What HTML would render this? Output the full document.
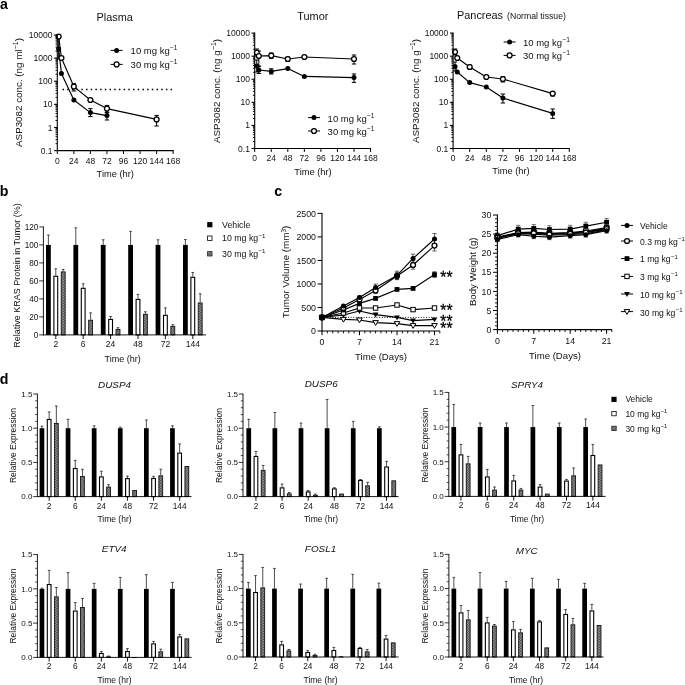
<!DOCTYPE html>
<html><head><meta charset="utf-8"><title>Figure</title>
<style>
html,body{margin:0;padding:0;background:#fff;}
body{width:685px;height:685px;overflow:hidden;}
svg{display:block;font-family:'Liberation Sans', Arial, sans-serif;}
</style></head><body>
<svg width="685" height="685" viewBox="0 0 685 685">
<rect width="685" height="685" fill="#fff"/>
<line x1="62.50" y1="89.60" x2="174.00" y2="89.60" stroke="#000" stroke-width="1.5" stroke-dasharray="1.5 3.2"/>
<polyline fill="none" stroke="#000" stroke-width="1.15" stroke-linejoin="round" points="58.68,49.00 61.44,73.40 73.85,100.00 90.40,112.60 106.95,115.60"/>
<line x1="58.68" y1="38.00" x2="58.68" y2="59.00" stroke="#000" stroke-width="1.00" />
<line x1="56.48" y1="38.00" x2="60.88" y2="38.00" stroke="#000" stroke-width="1.00" />
<line x1="56.48" y1="59.00" x2="60.88" y2="59.00" stroke="#000" stroke-width="1.00" />
<line x1="90.40" y1="108.60" x2="90.40" y2="116.60" stroke="#000" stroke-width="1.00" />
<line x1="88.20" y1="108.60" x2="92.60" y2="108.60" stroke="#000" stroke-width="1.00" />
<line x1="88.20" y1="116.60" x2="92.60" y2="116.60" stroke="#000" stroke-width="1.00" />
<line x1="106.95" y1="112.60" x2="106.95" y2="120.00" stroke="#000" stroke-width="1.00" />
<line x1="104.75" y1="112.60" x2="109.15" y2="112.60" stroke="#000" stroke-width="1.00" />
<line x1="104.75" y1="120.00" x2="109.15" y2="120.00" stroke="#000" stroke-width="1.00" />
<circle cx="58.68" cy="49.00" r="2.50" fill="#000"/>
<circle cx="61.44" cy="73.40" r="2.50" fill="#000"/>
<circle cx="73.85" cy="100.00" r="2.50" fill="#000"/>
<circle cx="90.40" cy="112.60" r="2.50" fill="#000"/>
<circle cx="106.95" cy="115.60" r="2.50" fill="#000"/>
<polyline fill="none" stroke="#000" stroke-width="1.15" stroke-linejoin="round" points="58.68,36.60 61.44,58.00 73.85,86.60 90.40,100.00 106.95,108.60 156.60,119.40"/>
<line x1="73.85" y1="83.60" x2="73.85" y2="91.00" stroke="#000" stroke-width="1.00" />
<line x1="71.65" y1="83.60" x2="76.05" y2="83.60" stroke="#000" stroke-width="1.00" />
<line x1="71.65" y1="91.00" x2="76.05" y2="91.00" stroke="#000" stroke-width="1.00" />
<line x1="106.95" y1="105.40" x2="106.95" y2="112.00" stroke="#000" stroke-width="1.00" />
<line x1="104.75" y1="105.40" x2="109.15" y2="105.40" stroke="#000" stroke-width="1.00" />
<line x1="104.75" y1="112.00" x2="109.15" y2="112.00" stroke="#000" stroke-width="1.00" />
<line x1="156.60" y1="115.40" x2="156.60" y2="126.00" stroke="#000" stroke-width="1.00" />
<line x1="154.40" y1="115.40" x2="158.80" y2="115.40" stroke="#000" stroke-width="1.00" />
<line x1="154.40" y1="126.00" x2="158.80" y2="126.00" stroke="#000" stroke-width="1.00" />
<circle cx="58.68" cy="36.60" r="2.45" fill="#fff" stroke="#000" stroke-width="1.3"/>
<circle cx="61.44" cy="58.00" r="2.45" fill="#fff" stroke="#000" stroke-width="1.3"/>
<circle cx="73.85" cy="86.60" r="2.45" fill="#fff" stroke="#000" stroke-width="1.3"/>
<circle cx="90.40" cy="100.00" r="2.45" fill="#fff" stroke="#000" stroke-width="1.3"/>
<circle cx="106.95" cy="108.60" r="2.45" fill="#fff" stroke="#000" stroke-width="1.3"/>
<circle cx="156.60" cy="119.40" r="2.45" fill="#fff" stroke="#000" stroke-width="1.3"/>
<line x1="57.30" y1="34.50" x2="57.30" y2="151.10" stroke="#000" stroke-width="1.10" />
<line x1="56.80" y1="150.60" x2="173.65" y2="150.60" stroke="#000" stroke-width="1.10" />
<line x1="54.10" y1="35.00" x2="57.30" y2="35.00" stroke="#000" stroke-width="1.10" />
<text x="52.50" y="38.05" text-anchor="end" fill="#111" style="font-size:8.50px" >10000</text>
<line x1="55.50" y1="51.16" x2="57.30" y2="51.16" stroke="#000" stroke-width="0.90" />
<line x1="55.50" y1="47.09" x2="57.30" y2="47.09" stroke="#000" stroke-width="0.90" />
<line x1="55.50" y1="44.20" x2="57.30" y2="44.20" stroke="#000" stroke-width="0.90" />
<line x1="55.50" y1="41.96" x2="57.30" y2="41.96" stroke="#000" stroke-width="0.90" />
<line x1="55.50" y1="40.13" x2="57.30" y2="40.13" stroke="#000" stroke-width="0.90" />
<line x1="55.50" y1="38.58" x2="57.30" y2="38.58" stroke="#000" stroke-width="0.90" />
<line x1="55.50" y1="37.24" x2="57.30" y2="37.24" stroke="#000" stroke-width="0.90" />
<line x1="55.50" y1="36.06" x2="57.30" y2="36.06" stroke="#000" stroke-width="0.90" />
<line x1="54.10" y1="58.12" x2="57.30" y2="58.12" stroke="#000" stroke-width="1.10" />
<text x="52.50" y="61.17" text-anchor="end" fill="#111" style="font-size:8.50px" >1000</text>
<line x1="55.50" y1="74.28" x2="57.30" y2="74.28" stroke="#000" stroke-width="0.90" />
<line x1="55.50" y1="70.21" x2="57.30" y2="70.21" stroke="#000" stroke-width="0.90" />
<line x1="55.50" y1="67.32" x2="57.30" y2="67.32" stroke="#000" stroke-width="0.90" />
<line x1="55.50" y1="65.08" x2="57.30" y2="65.08" stroke="#000" stroke-width="0.90" />
<line x1="55.50" y1="63.25" x2="57.30" y2="63.25" stroke="#000" stroke-width="0.90" />
<line x1="55.50" y1="61.70" x2="57.30" y2="61.70" stroke="#000" stroke-width="0.90" />
<line x1="55.50" y1="60.36" x2="57.30" y2="60.36" stroke="#000" stroke-width="0.90" />
<line x1="55.50" y1="59.18" x2="57.30" y2="59.18" stroke="#000" stroke-width="0.90" />
<line x1="54.10" y1="81.24" x2="57.30" y2="81.24" stroke="#000" stroke-width="1.10" />
<text x="52.50" y="84.29" text-anchor="end" fill="#111" style="font-size:8.50px" >100</text>
<line x1="55.50" y1="97.40" x2="57.30" y2="97.40" stroke="#000" stroke-width="0.90" />
<line x1="55.50" y1="93.33" x2="57.30" y2="93.33" stroke="#000" stroke-width="0.90" />
<line x1="55.50" y1="90.44" x2="57.30" y2="90.44" stroke="#000" stroke-width="0.90" />
<line x1="55.50" y1="88.20" x2="57.30" y2="88.20" stroke="#000" stroke-width="0.90" />
<line x1="55.50" y1="86.37" x2="57.30" y2="86.37" stroke="#000" stroke-width="0.90" />
<line x1="55.50" y1="84.82" x2="57.30" y2="84.82" stroke="#000" stroke-width="0.90" />
<line x1="55.50" y1="83.48" x2="57.30" y2="83.48" stroke="#000" stroke-width="0.90" />
<line x1="55.50" y1="82.30" x2="57.30" y2="82.30" stroke="#000" stroke-width="0.90" />
<line x1="54.10" y1="104.36" x2="57.30" y2="104.36" stroke="#000" stroke-width="1.10" />
<text x="52.50" y="107.41" text-anchor="end" fill="#111" style="font-size:8.50px" >10</text>
<line x1="55.50" y1="120.52" x2="57.30" y2="120.52" stroke="#000" stroke-width="0.90" />
<line x1="55.50" y1="116.45" x2="57.30" y2="116.45" stroke="#000" stroke-width="0.90" />
<line x1="55.50" y1="113.56" x2="57.30" y2="113.56" stroke="#000" stroke-width="0.90" />
<line x1="55.50" y1="111.32" x2="57.30" y2="111.32" stroke="#000" stroke-width="0.90" />
<line x1="55.50" y1="109.49" x2="57.30" y2="109.49" stroke="#000" stroke-width="0.90" />
<line x1="55.50" y1="107.94" x2="57.30" y2="107.94" stroke="#000" stroke-width="0.90" />
<line x1="55.50" y1="106.60" x2="57.30" y2="106.60" stroke="#000" stroke-width="0.90" />
<line x1="55.50" y1="105.42" x2="57.30" y2="105.42" stroke="#000" stroke-width="0.90" />
<line x1="54.10" y1="127.48" x2="57.30" y2="127.48" stroke="#000" stroke-width="1.10" />
<text x="52.50" y="130.53" text-anchor="end" fill="#111" style="font-size:8.50px" >1</text>
<line x1="55.50" y1="143.64" x2="57.30" y2="143.64" stroke="#000" stroke-width="0.90" />
<line x1="55.50" y1="139.57" x2="57.30" y2="139.57" stroke="#000" stroke-width="0.90" />
<line x1="55.50" y1="136.68" x2="57.30" y2="136.68" stroke="#000" stroke-width="0.90" />
<line x1="55.50" y1="134.44" x2="57.30" y2="134.44" stroke="#000" stroke-width="0.90" />
<line x1="55.50" y1="132.61" x2="57.30" y2="132.61" stroke="#000" stroke-width="0.90" />
<line x1="55.50" y1="131.06" x2="57.30" y2="131.06" stroke="#000" stroke-width="0.90" />
<line x1="55.50" y1="129.72" x2="57.30" y2="129.72" stroke="#000" stroke-width="0.90" />
<line x1="55.50" y1="128.54" x2="57.30" y2="128.54" stroke="#000" stroke-width="0.90" />
<line x1="54.10" y1="150.60" x2="57.30" y2="150.60" stroke="#000" stroke-width="1.10" />
<text x="52.50" y="153.65" text-anchor="end" fill="#111" style="font-size:8.50px" >0.1</text>
<line x1="57.30" y1="150.60" x2="57.30" y2="154.00" stroke="#000" stroke-width="1.00" />
<text x="57.30" y="163.60" text-anchor="middle" fill="#111" style="font-size:8.50px" >0</text>
<line x1="73.85" y1="150.60" x2="73.85" y2="154.00" stroke="#000" stroke-width="1.00" />
<text x="73.85" y="163.60" text-anchor="middle" fill="#111" style="font-size:8.50px" >24</text>
<line x1="90.40" y1="150.60" x2="90.40" y2="154.00" stroke="#000" stroke-width="1.00" />
<text x="90.40" y="163.60" text-anchor="middle" fill="#111" style="font-size:8.50px" >48</text>
<line x1="106.95" y1="150.60" x2="106.95" y2="154.00" stroke="#000" stroke-width="1.00" />
<text x="106.95" y="163.60" text-anchor="middle" fill="#111" style="font-size:8.50px" >72</text>
<line x1="123.50" y1="150.60" x2="123.50" y2="154.00" stroke="#000" stroke-width="1.00" />
<text x="123.50" y="163.60" text-anchor="middle" fill="#111" style="font-size:8.50px" >96</text>
<line x1="140.05" y1="150.60" x2="140.05" y2="154.00" stroke="#000" stroke-width="1.00" />
<text x="140.05" y="163.60" text-anchor="middle" fill="#111" style="font-size:8.50px" >120</text>
<line x1="156.60" y1="150.60" x2="156.60" y2="154.00" stroke="#000" stroke-width="1.00" />
<text x="156.60" y="163.60" text-anchor="middle" fill="#111" style="font-size:8.50px" >144</text>
<line x1="173.15" y1="150.60" x2="173.15" y2="154.00" stroke="#000" stroke-width="1.00" />
<text x="173.15" y="163.60" text-anchor="middle" fill="#111" style="font-size:8.50px" >168</text>
<text x="115.30" y="177.00" text-anchor="middle" fill="#111" style="font-size:9.30px" >Time (hr)</text>
<text transform="translate(22.00 92.50) rotate(-90)" text-anchor="middle" fill="#111" style="font-size:9.80px" >ASP3082 conc. (ng ml<tspan dx="0.3" dy="-4.12" font-size="6.86">−1</tspan><tspan dy="4.12" font-size="9.80">)</tspan></text>
<text x="96.60" y="20.60" text-anchor="start" fill="#111" style="font-size:10.90px" >Plasma</text>
<line x1="110.60" y1="50.40" x2="122.60" y2="50.40" stroke="#000" stroke-width="1.00" />
<circle cx="116.60" cy="50.40" r="2.50" fill="#000"/>
<text x="130.60" y="54.40" text-anchor="start" fill="#111" style="font-size:9.50px" >10 mg kg<tspan dx="0.3" dy="-3.99" font-size="6.65">−1</tspan></text>
<line x1="110.60" y1="64.40" x2="122.60" y2="64.40" stroke="#000" stroke-width="1.00" />
<circle cx="116.60" cy="64.40" r="2.45" fill="#fff" stroke="#000" stroke-width="1.3"/>
<text x="130.60" y="68.40" text-anchor="start" fill="#111" style="font-size:9.50px" >30 mg kg<tspan dx="0.3" dy="-3.99" font-size="6.65">−1</tspan></text>
<polyline fill="none" stroke="#000" stroke-width="1.15" stroke-linejoin="round" points="256.77,66.00 258.84,70.00 271.25,71.40 287.80,68.60 304.35,76.40 354.00,77.60"/>
<line x1="256.77" y1="60.00" x2="256.77" y2="72.00" stroke="#000" stroke-width="1.00" />
<line x1="254.57" y1="60.00" x2="258.97" y2="60.00" stroke="#000" stroke-width="1.00" />
<line x1="254.57" y1="72.00" x2="258.97" y2="72.00" stroke="#000" stroke-width="1.00" />
<line x1="258.84" y1="66.50" x2="258.84" y2="73.50" stroke="#000" stroke-width="1.00" />
<line x1="256.64" y1="66.50" x2="261.04" y2="66.50" stroke="#000" stroke-width="1.00" />
<line x1="256.64" y1="73.50" x2="261.04" y2="73.50" stroke="#000" stroke-width="1.00" />
<line x1="271.25" y1="68.80" x2="271.25" y2="74.00" stroke="#000" stroke-width="1.00" />
<line x1="269.05" y1="68.80" x2="273.45" y2="68.80" stroke="#000" stroke-width="1.00" />
<line x1="269.05" y1="74.00" x2="273.45" y2="74.00" stroke="#000" stroke-width="1.00" />
<line x1="354.00" y1="74.00" x2="354.00" y2="82.40" stroke="#000" stroke-width="1.00" />
<line x1="351.80" y1="74.00" x2="356.20" y2="74.00" stroke="#000" stroke-width="1.00" />
<line x1="351.80" y1="82.40" x2="356.20" y2="82.40" stroke="#000" stroke-width="1.00" />
<circle cx="256.77" cy="66.00" r="2.50" fill="#000"/>
<circle cx="258.84" cy="70.00" r="2.50" fill="#000"/>
<circle cx="271.25" cy="71.40" r="2.50" fill="#000"/>
<circle cx="287.80" cy="68.60" r="2.50" fill="#000"/>
<circle cx="304.35" cy="76.40" r="2.50" fill="#000"/>
<circle cx="354.00" cy="77.60" r="2.50" fill="#000"/>
<polyline fill="none" stroke="#000" stroke-width="1.15" stroke-linejoin="round" points="256.77,52.60 258.84,56.00 271.25,55.60 287.80,59.00 304.35,57.00 354.00,59.00"/>
<line x1="256.77" y1="49.00" x2="256.77" y2="56.00" stroke="#000" stroke-width="1.00" />
<line x1="254.57" y1="49.00" x2="258.97" y2="49.00" stroke="#000" stroke-width="1.00" />
<line x1="254.57" y1="56.00" x2="258.97" y2="56.00" stroke="#000" stroke-width="1.00" />
<line x1="258.84" y1="51.00" x2="258.84" y2="66.00" stroke="#000" stroke-width="1.00" />
<line x1="256.64" y1="51.00" x2="261.04" y2="51.00" stroke="#000" stroke-width="1.00" />
<line x1="256.64" y1="66.00" x2="261.04" y2="66.00" stroke="#000" stroke-width="1.00" />
<line x1="271.25" y1="53.00" x2="271.25" y2="58.40" stroke="#000" stroke-width="1.00" />
<line x1="269.05" y1="53.00" x2="273.45" y2="53.00" stroke="#000" stroke-width="1.00" />
<line x1="269.05" y1="58.40" x2="273.45" y2="58.40" stroke="#000" stroke-width="1.00" />
<line x1="287.80" y1="57.00" x2="287.80" y2="61.50" stroke="#000" stroke-width="1.00" />
<line x1="285.60" y1="57.00" x2="290.00" y2="57.00" stroke="#000" stroke-width="1.00" />
<line x1="285.60" y1="61.50" x2="290.00" y2="61.50" stroke="#000" stroke-width="1.00" />
<line x1="354.00" y1="55.00" x2="354.00" y2="64.00" stroke="#000" stroke-width="1.00" />
<line x1="351.80" y1="55.00" x2="356.20" y2="55.00" stroke="#000" stroke-width="1.00" />
<line x1="351.80" y1="64.00" x2="356.20" y2="64.00" stroke="#000" stroke-width="1.00" />
<circle cx="256.77" cy="52.60" r="2.45" fill="#fff" stroke="#000" stroke-width="1.3"/>
<circle cx="258.84" cy="56.00" r="2.45" fill="#fff" stroke="#000" stroke-width="1.3"/>
<circle cx="271.25" cy="55.60" r="2.45" fill="#fff" stroke="#000" stroke-width="1.3"/>
<circle cx="287.80" cy="59.00" r="2.45" fill="#fff" stroke="#000" stroke-width="1.3"/>
<circle cx="304.35" cy="57.00" r="2.45" fill="#fff" stroke="#000" stroke-width="1.3"/>
<circle cx="354.00" cy="59.00" r="2.45" fill="#fff" stroke="#000" stroke-width="1.3"/>
<line x1="254.70" y1="32.60" x2="254.70" y2="149.00" stroke="#000" stroke-width="1.10" />
<line x1="254.20" y1="148.50" x2="371.05" y2="148.50" stroke="#000" stroke-width="1.10" />
<line x1="251.50" y1="33.10" x2="254.70" y2="33.10" stroke="#000" stroke-width="1.10" />
<text x="249.90" y="36.15" text-anchor="end" fill="#111" style="font-size:8.50px" >10000</text>
<line x1="252.90" y1="49.23" x2="254.70" y2="49.23" stroke="#000" stroke-width="0.90" />
<line x1="252.90" y1="45.17" x2="254.70" y2="45.17" stroke="#000" stroke-width="0.90" />
<line x1="252.90" y1="42.28" x2="254.70" y2="42.28" stroke="#000" stroke-width="0.90" />
<line x1="252.90" y1="40.05" x2="254.70" y2="40.05" stroke="#000" stroke-width="0.90" />
<line x1="252.90" y1="38.22" x2="254.70" y2="38.22" stroke="#000" stroke-width="0.90" />
<line x1="252.90" y1="36.68" x2="254.70" y2="36.68" stroke="#000" stroke-width="0.90" />
<line x1="252.90" y1="35.34" x2="254.70" y2="35.34" stroke="#000" stroke-width="0.90" />
<line x1="252.90" y1="34.16" x2="254.70" y2="34.16" stroke="#000" stroke-width="0.90" />
<line x1="251.50" y1="56.18" x2="254.70" y2="56.18" stroke="#000" stroke-width="1.10" />
<text x="249.90" y="59.23" text-anchor="end" fill="#111" style="font-size:8.50px" >1000</text>
<line x1="252.90" y1="72.31" x2="254.70" y2="72.31" stroke="#000" stroke-width="0.90" />
<line x1="252.90" y1="68.25" x2="254.70" y2="68.25" stroke="#000" stroke-width="0.90" />
<line x1="252.90" y1="65.36" x2="254.70" y2="65.36" stroke="#000" stroke-width="0.90" />
<line x1="252.90" y1="63.13" x2="254.70" y2="63.13" stroke="#000" stroke-width="0.90" />
<line x1="252.90" y1="61.30" x2="254.70" y2="61.30" stroke="#000" stroke-width="0.90" />
<line x1="252.90" y1="59.76" x2="254.70" y2="59.76" stroke="#000" stroke-width="0.90" />
<line x1="252.90" y1="58.42" x2="254.70" y2="58.42" stroke="#000" stroke-width="0.90" />
<line x1="252.90" y1="57.24" x2="254.70" y2="57.24" stroke="#000" stroke-width="0.90" />
<line x1="251.50" y1="79.26" x2="254.70" y2="79.26" stroke="#000" stroke-width="1.10" />
<text x="249.90" y="82.31" text-anchor="end" fill="#111" style="font-size:8.50px" >100</text>
<line x1="252.90" y1="95.39" x2="254.70" y2="95.39" stroke="#000" stroke-width="0.90" />
<line x1="252.90" y1="91.33" x2="254.70" y2="91.33" stroke="#000" stroke-width="0.90" />
<line x1="252.90" y1="88.44" x2="254.70" y2="88.44" stroke="#000" stroke-width="0.90" />
<line x1="252.90" y1="86.21" x2="254.70" y2="86.21" stroke="#000" stroke-width="0.90" />
<line x1="252.90" y1="84.38" x2="254.70" y2="84.38" stroke="#000" stroke-width="0.90" />
<line x1="252.90" y1="82.84" x2="254.70" y2="82.84" stroke="#000" stroke-width="0.90" />
<line x1="252.90" y1="81.50" x2="254.70" y2="81.50" stroke="#000" stroke-width="0.90" />
<line x1="252.90" y1="80.32" x2="254.70" y2="80.32" stroke="#000" stroke-width="0.90" />
<line x1="251.50" y1="102.34" x2="254.70" y2="102.34" stroke="#000" stroke-width="1.10" />
<text x="249.90" y="105.39" text-anchor="end" fill="#111" style="font-size:8.50px" >10</text>
<line x1="252.90" y1="118.47" x2="254.70" y2="118.47" stroke="#000" stroke-width="0.90" />
<line x1="252.90" y1="114.41" x2="254.70" y2="114.41" stroke="#000" stroke-width="0.90" />
<line x1="252.90" y1="111.52" x2="254.70" y2="111.52" stroke="#000" stroke-width="0.90" />
<line x1="252.90" y1="109.29" x2="254.70" y2="109.29" stroke="#000" stroke-width="0.90" />
<line x1="252.90" y1="107.46" x2="254.70" y2="107.46" stroke="#000" stroke-width="0.90" />
<line x1="252.90" y1="105.92" x2="254.70" y2="105.92" stroke="#000" stroke-width="0.90" />
<line x1="252.90" y1="104.58" x2="254.70" y2="104.58" stroke="#000" stroke-width="0.90" />
<line x1="252.90" y1="103.40" x2="254.70" y2="103.40" stroke="#000" stroke-width="0.90" />
<line x1="251.50" y1="125.42" x2="254.70" y2="125.42" stroke="#000" stroke-width="1.10" />
<text x="249.90" y="128.47" text-anchor="end" fill="#111" style="font-size:8.50px" >1</text>
<line x1="252.90" y1="141.55" x2="254.70" y2="141.55" stroke="#000" stroke-width="0.90" />
<line x1="252.90" y1="137.49" x2="254.70" y2="137.49" stroke="#000" stroke-width="0.90" />
<line x1="252.90" y1="134.60" x2="254.70" y2="134.60" stroke="#000" stroke-width="0.90" />
<line x1="252.90" y1="132.37" x2="254.70" y2="132.37" stroke="#000" stroke-width="0.90" />
<line x1="252.90" y1="130.54" x2="254.70" y2="130.54" stroke="#000" stroke-width="0.90" />
<line x1="252.90" y1="129.00" x2="254.70" y2="129.00" stroke="#000" stroke-width="0.90" />
<line x1="252.90" y1="127.66" x2="254.70" y2="127.66" stroke="#000" stroke-width="0.90" />
<line x1="252.90" y1="126.48" x2="254.70" y2="126.48" stroke="#000" stroke-width="0.90" />
<line x1="251.50" y1="148.50" x2="254.70" y2="148.50" stroke="#000" stroke-width="1.10" />
<text x="249.90" y="151.55" text-anchor="end" fill="#111" style="font-size:8.50px" >0.1</text>
<line x1="254.70" y1="148.50" x2="254.70" y2="151.90" stroke="#000" stroke-width="1.00" />
<text x="254.70" y="161.40" text-anchor="middle" fill="#111" style="font-size:8.50px" >0</text>
<line x1="271.25" y1="148.50" x2="271.25" y2="151.90" stroke="#000" stroke-width="1.00" />
<text x="271.25" y="161.40" text-anchor="middle" fill="#111" style="font-size:8.50px" >24</text>
<line x1="287.80" y1="148.50" x2="287.80" y2="151.90" stroke="#000" stroke-width="1.00" />
<text x="287.80" y="161.40" text-anchor="middle" fill="#111" style="font-size:8.50px" >48</text>
<line x1="304.35" y1="148.50" x2="304.35" y2="151.90" stroke="#000" stroke-width="1.00" />
<text x="304.35" y="161.40" text-anchor="middle" fill="#111" style="font-size:8.50px" >72</text>
<line x1="320.90" y1="148.50" x2="320.90" y2="151.90" stroke="#000" stroke-width="1.00" />
<text x="320.90" y="161.40" text-anchor="middle" fill="#111" style="font-size:8.50px" >96</text>
<line x1="337.45" y1="148.50" x2="337.45" y2="151.90" stroke="#000" stroke-width="1.00" />
<text x="337.45" y="161.40" text-anchor="middle" fill="#111" style="font-size:8.50px" >120</text>
<line x1="354.00" y1="148.50" x2="354.00" y2="151.90" stroke="#000" stroke-width="1.00" />
<text x="354.00" y="161.40" text-anchor="middle" fill="#111" style="font-size:8.50px" >144</text>
<line x1="370.55" y1="148.50" x2="370.55" y2="151.90" stroke="#000" stroke-width="1.00" />
<text x="370.55" y="161.40" text-anchor="middle" fill="#111" style="font-size:8.50px" >168</text>
<text x="313.00" y="175.00" text-anchor="middle" fill="#111" style="font-size:9.30px" >Time (hr)</text>
<text transform="translate(219.80 91.00) rotate(-90)" text-anchor="middle" fill="#111" style="font-size:9.80px" >ASP3082 conc. (ng g<tspan dx="0.3" dy="-4.12" font-size="6.86">−1</tspan><tspan dy="4.12" font-size="9.80">)</tspan></text>
<text x="297.30" y="20.00" text-anchor="start" fill="#111" style="font-size:10.90px" >Tumor</text>
<line x1="308.00" y1="117.60" x2="320.00" y2="117.60" stroke="#000" stroke-width="1.00" />
<circle cx="314.00" cy="117.60" r="2.50" fill="#000"/>
<text x="327.60" y="121.60" text-anchor="start" fill="#111" style="font-size:9.50px" >10 mg kg<tspan dx="0.3" dy="-3.99" font-size="6.65">−1</tspan></text>
<line x1="308.00" y1="131.00" x2="320.00" y2="131.00" stroke="#000" stroke-width="1.00" />
<circle cx="314.00" cy="131.00" r="2.45" fill="#fff" stroke="#000" stroke-width="1.3"/>
<text x="327.60" y="135.00" text-anchor="start" fill="#111" style="font-size:9.50px" >30 mg kg<tspan dx="0.3" dy="-3.99" font-size="6.65">−1</tspan></text>
<polyline fill="none" stroke="#000" stroke-width="1.15" stroke-linejoin="round" points="455.04,66.60 457.25,72.00 469.70,82.60 486.30,87.00 502.90,98.00 552.70,113.40"/>
<line x1="455.04" y1="62.00" x2="455.04" y2="71.00" stroke="#000" stroke-width="1.00" />
<line x1="452.84" y1="62.00" x2="457.24" y2="62.00" stroke="#000" stroke-width="1.00" />
<line x1="452.84" y1="71.00" x2="457.24" y2="71.00" stroke="#000" stroke-width="1.00" />
<line x1="502.90" y1="94.00" x2="502.90" y2="103.00" stroke="#000" stroke-width="1.00" />
<line x1="500.70" y1="94.00" x2="505.10" y2="94.00" stroke="#000" stroke-width="1.00" />
<line x1="500.70" y1="103.00" x2="505.10" y2="103.00" stroke="#000" stroke-width="1.00" />
<line x1="552.70" y1="109.00" x2="552.70" y2="118.40" stroke="#000" stroke-width="1.00" />
<line x1="550.50" y1="109.00" x2="554.90" y2="109.00" stroke="#000" stroke-width="1.00" />
<line x1="550.50" y1="118.40" x2="554.90" y2="118.40" stroke="#000" stroke-width="1.00" />
<circle cx="455.04" cy="66.60" r="2.50" fill="#000"/>
<circle cx="457.25" cy="72.00" r="2.50" fill="#000"/>
<circle cx="469.70" cy="82.60" r="2.50" fill="#000"/>
<circle cx="486.30" cy="87.00" r="2.50" fill="#000"/>
<circle cx="502.90" cy="98.00" r="2.50" fill="#000"/>
<circle cx="552.70" cy="113.40" r="2.50" fill="#000"/>
<polyline fill="none" stroke="#000" stroke-width="1.15" stroke-linejoin="round" points="455.04,52.00 457.25,58.00 469.70,67.00 486.30,77.00 502.90,79.00 552.70,93.60"/>
<line x1="455.04" y1="49.00" x2="455.04" y2="55.00" stroke="#000" stroke-width="1.00" />
<line x1="452.84" y1="49.00" x2="457.24" y2="49.00" stroke="#000" stroke-width="1.00" />
<line x1="452.84" y1="55.00" x2="457.24" y2="55.00" stroke="#000" stroke-width="1.00" />
<line x1="469.70" y1="65.00" x2="469.70" y2="69.00" stroke="#000" stroke-width="1.00" />
<line x1="467.50" y1="65.00" x2="471.90" y2="65.00" stroke="#000" stroke-width="1.00" />
<line x1="467.50" y1="69.00" x2="471.90" y2="69.00" stroke="#000" stroke-width="1.00" />
<line x1="502.90" y1="76.50" x2="502.90" y2="82.00" stroke="#000" stroke-width="1.00" />
<line x1="500.70" y1="76.50" x2="505.10" y2="76.50" stroke="#000" stroke-width="1.00" />
<line x1="500.70" y1="82.00" x2="505.10" y2="82.00" stroke="#000" stroke-width="1.00" />
<line x1="552.70" y1="91.50" x2="552.70" y2="96.00" stroke="#000" stroke-width="1.00" />
<line x1="550.50" y1="91.50" x2="554.90" y2="91.50" stroke="#000" stroke-width="1.00" />
<line x1="550.50" y1="96.00" x2="554.90" y2="96.00" stroke="#000" stroke-width="1.00" />
<circle cx="455.04" cy="52.00" r="2.45" fill="#fff" stroke="#000" stroke-width="1.3"/>
<circle cx="457.25" cy="58.00" r="2.45" fill="#fff" stroke="#000" stroke-width="1.3"/>
<circle cx="469.70" cy="67.00" r="2.45" fill="#fff" stroke="#000" stroke-width="1.3"/>
<circle cx="486.30" cy="77.00" r="2.45" fill="#fff" stroke="#000" stroke-width="1.3"/>
<circle cx="502.90" cy="79.00" r="2.45" fill="#fff" stroke="#000" stroke-width="1.3"/>
<circle cx="552.70" cy="93.60" r="2.45" fill="#fff" stroke="#000" stroke-width="1.3"/>
<line x1="453.10" y1="32.60" x2="453.10" y2="149.00" stroke="#000" stroke-width="1.10" />
<line x1="452.60" y1="148.50" x2="569.80" y2="148.50" stroke="#000" stroke-width="1.10" />
<line x1="449.90" y1="33.10" x2="453.10" y2="33.10" stroke="#000" stroke-width="1.10" />
<text x="448.30" y="36.15" text-anchor="end" fill="#111" style="font-size:8.50px" >10000</text>
<line x1="451.30" y1="49.23" x2="453.10" y2="49.23" stroke="#000" stroke-width="0.90" />
<line x1="451.30" y1="45.17" x2="453.10" y2="45.17" stroke="#000" stroke-width="0.90" />
<line x1="451.30" y1="42.28" x2="453.10" y2="42.28" stroke="#000" stroke-width="0.90" />
<line x1="451.30" y1="40.05" x2="453.10" y2="40.05" stroke="#000" stroke-width="0.90" />
<line x1="451.30" y1="38.22" x2="453.10" y2="38.22" stroke="#000" stroke-width="0.90" />
<line x1="451.30" y1="36.68" x2="453.10" y2="36.68" stroke="#000" stroke-width="0.90" />
<line x1="451.30" y1="35.34" x2="453.10" y2="35.34" stroke="#000" stroke-width="0.90" />
<line x1="451.30" y1="34.16" x2="453.10" y2="34.16" stroke="#000" stroke-width="0.90" />
<line x1="449.90" y1="56.18" x2="453.10" y2="56.18" stroke="#000" stroke-width="1.10" />
<text x="448.30" y="59.23" text-anchor="end" fill="#111" style="font-size:8.50px" >1000</text>
<line x1="451.30" y1="72.31" x2="453.10" y2="72.31" stroke="#000" stroke-width="0.90" />
<line x1="451.30" y1="68.25" x2="453.10" y2="68.25" stroke="#000" stroke-width="0.90" />
<line x1="451.30" y1="65.36" x2="453.10" y2="65.36" stroke="#000" stroke-width="0.90" />
<line x1="451.30" y1="63.13" x2="453.10" y2="63.13" stroke="#000" stroke-width="0.90" />
<line x1="451.30" y1="61.30" x2="453.10" y2="61.30" stroke="#000" stroke-width="0.90" />
<line x1="451.30" y1="59.76" x2="453.10" y2="59.76" stroke="#000" stroke-width="0.90" />
<line x1="451.30" y1="58.42" x2="453.10" y2="58.42" stroke="#000" stroke-width="0.90" />
<line x1="451.30" y1="57.24" x2="453.10" y2="57.24" stroke="#000" stroke-width="0.90" />
<line x1="449.90" y1="79.26" x2="453.10" y2="79.26" stroke="#000" stroke-width="1.10" />
<text x="448.30" y="82.31" text-anchor="end" fill="#111" style="font-size:8.50px" >100</text>
<line x1="451.30" y1="95.39" x2="453.10" y2="95.39" stroke="#000" stroke-width="0.90" />
<line x1="451.30" y1="91.33" x2="453.10" y2="91.33" stroke="#000" stroke-width="0.90" />
<line x1="451.30" y1="88.44" x2="453.10" y2="88.44" stroke="#000" stroke-width="0.90" />
<line x1="451.30" y1="86.21" x2="453.10" y2="86.21" stroke="#000" stroke-width="0.90" />
<line x1="451.30" y1="84.38" x2="453.10" y2="84.38" stroke="#000" stroke-width="0.90" />
<line x1="451.30" y1="82.84" x2="453.10" y2="82.84" stroke="#000" stroke-width="0.90" />
<line x1="451.30" y1="81.50" x2="453.10" y2="81.50" stroke="#000" stroke-width="0.90" />
<line x1="451.30" y1="80.32" x2="453.10" y2="80.32" stroke="#000" stroke-width="0.90" />
<line x1="449.90" y1="102.34" x2="453.10" y2="102.34" stroke="#000" stroke-width="1.10" />
<text x="448.30" y="105.39" text-anchor="end" fill="#111" style="font-size:8.50px" >10</text>
<line x1="451.30" y1="118.47" x2="453.10" y2="118.47" stroke="#000" stroke-width="0.90" />
<line x1="451.30" y1="114.41" x2="453.10" y2="114.41" stroke="#000" stroke-width="0.90" />
<line x1="451.30" y1="111.52" x2="453.10" y2="111.52" stroke="#000" stroke-width="0.90" />
<line x1="451.30" y1="109.29" x2="453.10" y2="109.29" stroke="#000" stroke-width="0.90" />
<line x1="451.30" y1="107.46" x2="453.10" y2="107.46" stroke="#000" stroke-width="0.90" />
<line x1="451.30" y1="105.92" x2="453.10" y2="105.92" stroke="#000" stroke-width="0.90" />
<line x1="451.30" y1="104.58" x2="453.10" y2="104.58" stroke="#000" stroke-width="0.90" />
<line x1="451.30" y1="103.40" x2="453.10" y2="103.40" stroke="#000" stroke-width="0.90" />
<line x1="449.90" y1="125.42" x2="453.10" y2="125.42" stroke="#000" stroke-width="1.10" />
<text x="448.30" y="128.47" text-anchor="end" fill="#111" style="font-size:8.50px" >1</text>
<line x1="451.30" y1="141.55" x2="453.10" y2="141.55" stroke="#000" stroke-width="0.90" />
<line x1="451.30" y1="137.49" x2="453.10" y2="137.49" stroke="#000" stroke-width="0.90" />
<line x1="451.30" y1="134.60" x2="453.10" y2="134.60" stroke="#000" stroke-width="0.90" />
<line x1="451.30" y1="132.37" x2="453.10" y2="132.37" stroke="#000" stroke-width="0.90" />
<line x1="451.30" y1="130.54" x2="453.10" y2="130.54" stroke="#000" stroke-width="0.90" />
<line x1="451.30" y1="129.00" x2="453.10" y2="129.00" stroke="#000" stroke-width="0.90" />
<line x1="451.30" y1="127.66" x2="453.10" y2="127.66" stroke="#000" stroke-width="0.90" />
<line x1="451.30" y1="126.48" x2="453.10" y2="126.48" stroke="#000" stroke-width="0.90" />
<line x1="449.90" y1="148.50" x2="453.10" y2="148.50" stroke="#000" stroke-width="1.10" />
<text x="448.30" y="151.55" text-anchor="end" fill="#111" style="font-size:8.50px" >0.1</text>
<line x1="453.10" y1="148.50" x2="453.10" y2="151.90" stroke="#000" stroke-width="1.00" />
<text x="453.10" y="161.40" text-anchor="middle" fill="#111" style="font-size:8.50px" >0</text>
<line x1="469.70" y1="148.50" x2="469.70" y2="151.90" stroke="#000" stroke-width="1.00" />
<text x="469.70" y="161.40" text-anchor="middle" fill="#111" style="font-size:8.50px" >24</text>
<line x1="486.30" y1="148.50" x2="486.30" y2="151.90" stroke="#000" stroke-width="1.00" />
<text x="486.30" y="161.40" text-anchor="middle" fill="#111" style="font-size:8.50px" >48</text>
<line x1="502.90" y1="148.50" x2="502.90" y2="151.90" stroke="#000" stroke-width="1.00" />
<text x="502.90" y="161.40" text-anchor="middle" fill="#111" style="font-size:8.50px" >72</text>
<line x1="519.50" y1="148.50" x2="519.50" y2="151.90" stroke="#000" stroke-width="1.00" />
<text x="519.50" y="161.40" text-anchor="middle" fill="#111" style="font-size:8.50px" >96</text>
<line x1="536.10" y1="148.50" x2="536.10" y2="151.90" stroke="#000" stroke-width="1.00" />
<text x="536.10" y="161.40" text-anchor="middle" fill="#111" style="font-size:8.50px" >120</text>
<line x1="552.70" y1="148.50" x2="552.70" y2="151.90" stroke="#000" stroke-width="1.00" />
<text x="552.70" y="161.40" text-anchor="middle" fill="#111" style="font-size:8.50px" >144</text>
<line x1="569.30" y1="148.50" x2="569.30" y2="151.90" stroke="#000" stroke-width="1.00" />
<text x="569.30" y="161.40" text-anchor="middle" fill="#111" style="font-size:8.50px" >168</text>
<text x="511.00" y="174.40" text-anchor="middle" fill="#111" style="font-size:9.30px" >Time (hr)</text>
<text transform="translate(419.40 91.00) rotate(-90)" text-anchor="middle" fill="#111" style="font-size:9.80px" >ASP3082 conc. (ng g<tspan dx="0.3" dy="-4.12" font-size="6.86">−1</tspan><tspan dy="4.12" font-size="9.80">)</tspan></text>
<text x="457.00" y="19.40" text-anchor="start" fill="#111" style="font-size:10.90px" >Pancreas</text>
<text x="507.00" y="19.40" text-anchor="start" fill="#111" style="font-size:8.70px" >(Normal tissue)</text>
<line x1="503.60" y1="42.00" x2="515.60" y2="42.00" stroke="#000" stroke-width="1.00" />
<circle cx="509.60" cy="42.00" r="2.50" fill="#000"/>
<text x="523.00" y="46.00" text-anchor="start" fill="#111" style="font-size:9.50px" >10 mg kg<tspan dx="0.3" dy="-3.99" font-size="6.65">−1</tspan></text>
<line x1="503.60" y1="55.40" x2="515.60" y2="55.40" stroke="#000" stroke-width="1.00" />
<circle cx="509.60" cy="55.40" r="2.45" fill="#fff" stroke="#000" stroke-width="1.3"/>
<text x="523.00" y="59.40" text-anchor="start" fill="#111" style="font-size:9.50px" >30 mg kg<tspan dx="0.3" dy="-3.99" font-size="6.65">−1</tspan></text>
<defs>
<pattern id="hat" width="1.6" height="1.6" patternUnits="userSpaceOnUse">
<rect width="1.6" height="1.6" fill="#a8a8a8"/>
<rect x="0" y="0" width="0.8" height="0.8" fill="#3c3c3c"/>
<rect x="0.8" y="0.8" width="0.8" height="0.8" fill="#3c3c3c"/>
</pattern>
</defs>
<line x1="48.40" y1="235.00" x2="48.40" y2="244.90" stroke="#222" stroke-width="0.80" />
<line x1="47.05" y1="235.00" x2="49.75" y2="235.00" stroke="#222" stroke-width="0.80" />
<rect x="46.00" y="244.90" width="4.80" height="90.00" fill="#000"/>
<line x1="55.80" y1="268.84" x2="55.80" y2="275.77" stroke="#222" stroke-width="0.80" />
<line x1="54.45" y1="268.84" x2="57.15" y2="268.84" stroke="#222" stroke-width="0.80" />
<rect x="53.90" y="276.27" width="3.80" height="58.63" fill="#fff" stroke="#000" stroke-width="1.1"/>
<line x1="63.20" y1="269.47" x2="63.20" y2="271.45" stroke="#222" stroke-width="0.80" />
<line x1="61.85" y1="269.47" x2="64.55" y2="269.47" stroke="#222" stroke-width="0.80" />
<rect x="61.25" y="271.90" width="3.90" height="63.00" fill="url(#hat)" stroke="#111" stroke-width="0.9"/>
<line x1="75.80" y1="227.80" x2="75.80" y2="244.90" stroke="#222" stroke-width="0.80" />
<line x1="74.45" y1="227.80" x2="77.15" y2="227.80" stroke="#222" stroke-width="0.80" />
<rect x="73.40" y="244.90" width="4.80" height="90.00" fill="#000"/>
<line x1="83.20" y1="283.78" x2="83.20" y2="287.83" stroke="#222" stroke-width="0.80" />
<line x1="81.85" y1="283.78" x2="84.55" y2="283.78" stroke="#222" stroke-width="0.80" />
<rect x="81.30" y="288.33" width="3.80" height="46.57" fill="#fff" stroke="#000" stroke-width="1.1"/>
<line x1="90.60" y1="312.85" x2="90.60" y2="319.78" stroke="#222" stroke-width="0.80" />
<line x1="89.25" y1="312.85" x2="91.95" y2="312.85" stroke="#222" stroke-width="0.80" />
<rect x="88.65" y="320.23" width="3.90" height="14.67" fill="url(#hat)" stroke="#111" stroke-width="0.9"/>
<line x1="103.20" y1="239.77" x2="103.20" y2="244.90" stroke="#222" stroke-width="0.80" />
<line x1="101.85" y1="239.77" x2="104.55" y2="239.77" stroke="#222" stroke-width="0.80" />
<rect x="100.80" y="244.90" width="4.80" height="90.00" fill="#000"/>
<line x1="110.60" y1="316.45" x2="110.60" y2="318.97" stroke="#222" stroke-width="0.80" />
<line x1="109.25" y1="316.45" x2="111.95" y2="316.45" stroke="#222" stroke-width="0.80" />
<rect x="108.70" y="319.47" width="3.80" height="15.43" fill="#fff" stroke="#000" stroke-width="1.1"/>
<line x1="118.00" y1="327.70" x2="118.00" y2="329.05" stroke="#222" stroke-width="0.80" />
<line x1="116.65" y1="327.70" x2="119.35" y2="327.70" stroke="#222" stroke-width="0.80" />
<rect x="116.05" y="329.50" width="3.90" height="5.40" fill="url(#hat)" stroke="#111" stroke-width="0.9"/>
<line x1="130.60" y1="231.40" x2="130.60" y2="244.90" stroke="#222" stroke-width="0.80" />
<line x1="129.25" y1="231.40" x2="131.95" y2="231.40" stroke="#222" stroke-width="0.80" />
<rect x="128.20" y="244.90" width="4.80" height="90.00" fill="#000"/>
<line x1="138.00" y1="294.40" x2="138.00" y2="298.90" stroke="#222" stroke-width="0.80" />
<line x1="136.65" y1="294.40" x2="139.35" y2="294.40" stroke="#222" stroke-width="0.80" />
<rect x="136.10" y="299.40" width="3.80" height="35.50" fill="#fff" stroke="#000" stroke-width="1.1"/>
<line x1="145.40" y1="311.77" x2="145.40" y2="313.84" stroke="#222" stroke-width="0.80" />
<line x1="144.05" y1="311.77" x2="146.75" y2="311.77" stroke="#222" stroke-width="0.80" />
<rect x="143.45" y="314.29" width="3.90" height="20.61" fill="url(#hat)" stroke="#111" stroke-width="0.9"/>
<line x1="158.00" y1="239.77" x2="158.00" y2="244.90" stroke="#222" stroke-width="0.80" />
<line x1="156.65" y1="239.77" x2="159.35" y2="239.77" stroke="#222" stroke-width="0.80" />
<rect x="155.60" y="244.90" width="4.80" height="90.00" fill="#000"/>
<line x1="165.40" y1="307.90" x2="165.40" y2="314.83" stroke="#222" stroke-width="0.80" />
<line x1="164.05" y1="307.90" x2="166.75" y2="307.90" stroke="#222" stroke-width="0.80" />
<rect x="163.50" y="315.33" width="3.80" height="19.57" fill="#fff" stroke="#000" stroke-width="1.1"/>
<line x1="172.80" y1="324.64" x2="172.80" y2="325.90" stroke="#222" stroke-width="0.80" />
<line x1="171.45" y1="324.64" x2="174.15" y2="324.64" stroke="#222" stroke-width="0.80" />
<rect x="170.85" y="326.35" width="3.90" height="8.55" fill="url(#hat)" stroke="#111" stroke-width="0.9"/>
<line x1="185.40" y1="239.50" x2="185.40" y2="244.90" stroke="#222" stroke-width="0.80" />
<line x1="184.05" y1="239.50" x2="186.75" y2="239.50" stroke="#222" stroke-width="0.80" />
<rect x="183.00" y="244.90" width="4.80" height="90.00" fill="#000"/>
<line x1="192.80" y1="272.44" x2="192.80" y2="276.85" stroke="#222" stroke-width="0.80" />
<line x1="191.45" y1="272.44" x2="194.15" y2="272.44" stroke="#222" stroke-width="0.80" />
<rect x="190.90" y="277.35" width="3.80" height="57.55" fill="#fff" stroke="#000" stroke-width="1.1"/>
<line x1="200.20" y1="293.77" x2="200.20" y2="302.50" stroke="#222" stroke-width="0.80" />
<line x1="198.85" y1="293.77" x2="201.55" y2="293.77" stroke="#222" stroke-width="0.80" />
<rect x="198.25" y="302.95" width="3.90" height="31.95" fill="url(#hat)" stroke="#111" stroke-width="0.9"/>
<line x1="43.40" y1="226.50" x2="43.40" y2="335.30" stroke="#000" stroke-width="0.90" />
<line x1="43.00" y1="334.90" x2="206.00" y2="334.90" stroke="#000" stroke-width="0.90" />
<line x1="39.20" y1="334.90" x2="43.40" y2="334.90" stroke="#000" stroke-width="0.80" />
<text x="38.40" y="337.70" text-anchor="end" fill="#111" style="font-size:8.20px" >0</text>
<line x1="39.20" y1="316.90" x2="43.40" y2="316.90" stroke="#000" stroke-width="0.80" />
<text x="38.40" y="319.70" text-anchor="end" fill="#111" style="font-size:8.20px" >20</text>
<line x1="39.20" y1="298.90" x2="43.40" y2="298.90" stroke="#000" stroke-width="0.80" />
<text x="38.40" y="301.70" text-anchor="end" fill="#111" style="font-size:8.20px" >40</text>
<line x1="39.20" y1="280.90" x2="43.40" y2="280.90" stroke="#000" stroke-width="0.80" />
<text x="38.40" y="283.70" text-anchor="end" fill="#111" style="font-size:8.20px" >60</text>
<line x1="39.20" y1="262.90" x2="43.40" y2="262.90" stroke="#000" stroke-width="0.80" />
<text x="38.40" y="265.70" text-anchor="end" fill="#111" style="font-size:8.20px" >80</text>
<line x1="39.20" y1="244.90" x2="43.40" y2="244.90" stroke="#000" stroke-width="0.80" />
<text x="38.40" y="247.70" text-anchor="end" fill="#111" style="font-size:8.20px" >100</text>
<line x1="39.20" y1="226.90" x2="43.40" y2="226.90" stroke="#000" stroke-width="0.80" />
<text x="38.40" y="229.70" text-anchor="end" fill="#111" style="font-size:8.20px" >120</text>
<line x1="55.80" y1="334.90" x2="55.80" y2="339.10" stroke="#000" stroke-width="0.90" />
<text x="55.80" y="347.40" text-anchor="middle" fill="#111" style="font-size:8.50px" >2</text>
<line x1="83.20" y1="334.90" x2="83.20" y2="339.10" stroke="#000" stroke-width="0.90" />
<text x="83.20" y="347.40" text-anchor="middle" fill="#111" style="font-size:8.50px" >6</text>
<line x1="110.60" y1="334.90" x2="110.60" y2="339.10" stroke="#000" stroke-width="0.90" />
<text x="110.60" y="347.40" text-anchor="middle" fill="#111" style="font-size:8.50px" >24</text>
<line x1="138.00" y1="334.90" x2="138.00" y2="339.10" stroke="#000" stroke-width="0.90" />
<text x="138.00" y="347.40" text-anchor="middle" fill="#111" style="font-size:8.50px" >48</text>
<line x1="165.40" y1="334.90" x2="165.40" y2="339.10" stroke="#000" stroke-width="0.90" />
<text x="165.40" y="347.40" text-anchor="middle" fill="#111" style="font-size:8.50px" >72</text>
<line x1="192.80" y1="334.90" x2="192.80" y2="339.10" stroke="#000" stroke-width="0.90" />
<text x="192.80" y="347.40" text-anchor="middle" fill="#111" style="font-size:8.50px" >144</text>
<text x="122.60" y="362.00" text-anchor="middle" fill="#111" style="font-size:9.00px" >Time (hr)</text>
<text transform="translate(19.60 275.50) rotate(-90)" text-anchor="middle" fill="#111" style="font-size:9.00px" >Relative KRAS Protein in Tumor (%)</text>
<rect x="207.20" y="222.10" width="5.2" height="5.2" fill="#000"/>
<text x="222.00" y="227.60" text-anchor="start" fill="#111" style="font-size:8.80px" >Vehicle</text>
<rect x="207.60" y="236.00" width="4.4" height="4.4" fill="#fff" stroke="#000" stroke-width="0.8"/>
<text x="222.00" y="241.40" text-anchor="start" fill="#111" style="font-size:8.80px" >10 mg kg<tspan dx="0.3" dy="-3.70" font-size="6.16">−1</tspan></text>
<rect x="207.60" y="251.60" width="4.4" height="4.4" fill="url(#hat)" stroke="#222" stroke-width="0.8"/>
<text x="222.00" y="257.00" text-anchor="start" fill="#111" style="font-size:8.80px" >30 mg kg<tspan dx="0.3" dy="-3.70" font-size="6.16">−1</tspan></text>
<line x1="41.95" y1="426.15" x2="41.95" y2="428.20" stroke="#222" stroke-width="0.80" />
<line x1="40.60" y1="426.15" x2="43.30" y2="426.15" stroke="#222" stroke-width="0.80" />
<rect x="39.60" y="428.20" width="4.70" height="68.40" fill="#000"/>
<line x1="49.15" y1="411.99" x2="49.15" y2="418.97" stroke="#222" stroke-width="0.80" />
<line x1="47.80" y1="411.99" x2="50.50" y2="411.99" stroke="#222" stroke-width="0.80" />
<rect x="47.30" y="419.47" width="3.70" height="77.13" fill="#fff" stroke="#000" stroke-width="1.1"/>
<line x1="56.35" y1="405.97" x2="56.35" y2="423.00" stroke="#222" stroke-width="0.80" />
<line x1="55.00" y1="405.97" x2="57.70" y2="405.97" stroke="#222" stroke-width="0.80" />
<rect x="54.45" y="423.45" width="3.80" height="73.15" fill="url(#hat)" stroke="#111" stroke-width="0.9"/>
<line x1="68.05" y1="419.31" x2="68.05" y2="428.20" stroke="#222" stroke-width="0.80" />
<line x1="66.70" y1="419.31" x2="69.40" y2="419.31" stroke="#222" stroke-width="0.80" />
<rect x="65.70" y="428.20" width="4.70" height="68.40" fill="#000"/>
<line x1="75.25" y1="460.35" x2="75.25" y2="468.01" stroke="#222" stroke-width="0.80" />
<line x1="73.90" y1="460.35" x2="76.60" y2="460.35" stroke="#222" stroke-width="0.80" />
<rect x="73.40" y="468.51" width="3.70" height="28.09" fill="#fff" stroke="#000" stroke-width="1.1"/>
<line x1="82.45" y1="469.24" x2="82.45" y2="476.08" stroke="#222" stroke-width="0.80" />
<line x1="81.10" y1="469.24" x2="83.80" y2="469.24" stroke="#222" stroke-width="0.80" />
<rect x="80.55" y="476.53" width="3.80" height="20.07" fill="url(#hat)" stroke="#111" stroke-width="0.9"/>
<line x1="94.15" y1="425.81" x2="94.15" y2="428.20" stroke="#222" stroke-width="0.80" />
<line x1="92.80" y1="425.81" x2="95.50" y2="425.81" stroke="#222" stroke-width="0.80" />
<rect x="91.80" y="428.20" width="4.70" height="68.40" fill="#000"/>
<line x1="101.35" y1="471.29" x2="101.35" y2="476.42" stroke="#222" stroke-width="0.80" />
<line x1="100.00" y1="471.29" x2="102.70" y2="471.29" stroke="#222" stroke-width="0.80" />
<rect x="99.50" y="476.92" width="3.70" height="19.68" fill="#fff" stroke="#000" stroke-width="1.1"/>
<line x1="108.55" y1="484.63" x2="108.55" y2="486.61" stroke="#222" stroke-width="0.80" />
<line x1="107.20" y1="484.63" x2="109.90" y2="484.63" stroke="#222" stroke-width="0.80" />
<rect x="106.65" y="487.06" width="3.80" height="9.54" fill="url(#hat)" stroke="#111" stroke-width="0.9"/>
<line x1="120.25" y1="427.17" x2="120.25" y2="428.20" stroke="#222" stroke-width="0.80" />
<line x1="118.90" y1="427.17" x2="121.60" y2="427.17" stroke="#222" stroke-width="0.80" />
<rect x="117.90" y="428.20" width="4.70" height="68.40" fill="#000"/>
<line x1="127.45" y1="476.08" x2="127.45" y2="478.13" stroke="#222" stroke-width="0.80" />
<line x1="126.10" y1="476.08" x2="128.80" y2="476.08" stroke="#222" stroke-width="0.80" />
<rect x="125.60" y="478.63" width="3.70" height="17.97" fill="#fff" stroke="#000" stroke-width="1.1"/>
<rect x="132.75" y="490.48" width="3.80" height="6.12" fill="url(#hat)" stroke="#111" stroke-width="0.9"/>
<line x1="146.35" y1="419.99" x2="146.35" y2="428.20" stroke="#222" stroke-width="0.80" />
<line x1="145.00" y1="419.99" x2="147.70" y2="419.99" stroke="#222" stroke-width="0.80" />
<rect x="144.00" y="428.20" width="4.70" height="68.40" fill="#000"/>
<line x1="153.55" y1="476.42" x2="153.55" y2="478.00" stroke="#222" stroke-width="0.80" />
<line x1="152.20" y1="476.42" x2="154.90" y2="476.42" stroke="#222" stroke-width="0.80" />
<rect x="151.70" y="478.50" width="3.70" height="18.10" fill="#fff" stroke="#000" stroke-width="1.1"/>
<line x1="160.75" y1="469.24" x2="160.75" y2="475.40" stroke="#222" stroke-width="0.80" />
<line x1="159.40" y1="469.24" x2="162.10" y2="469.24" stroke="#222" stroke-width="0.80" />
<rect x="158.85" y="475.85" width="3.80" height="20.75" fill="url(#hat)" stroke="#111" stroke-width="0.9"/>
<line x1="172.45" y1="425.81" x2="172.45" y2="428.20" stroke="#222" stroke-width="0.80" />
<line x1="171.10" y1="425.81" x2="173.80" y2="425.81" stroke="#222" stroke-width="0.80" />
<rect x="170.10" y="428.20" width="4.70" height="68.40" fill="#000"/>
<line x1="179.65" y1="443.93" x2="179.65" y2="452.62" stroke="#222" stroke-width="0.80" />
<line x1="178.30" y1="443.93" x2="181.00" y2="443.93" stroke="#222" stroke-width="0.80" />
<rect x="177.80" y="453.12" width="3.70" height="43.48" fill="#fff" stroke="#000" stroke-width="1.1"/>
<rect x="184.95" y="466.48" width="3.80" height="30.12" fill="url(#hat)" stroke="#111" stroke-width="0.9"/>
<line x1="37.40" y1="393.60" x2="37.40" y2="497.00" stroke="#000" stroke-width="0.90" />
<line x1="37.00" y1="496.60" x2="191.60" y2="496.60" stroke="#000" stroke-width="0.90" />
<line x1="33.20" y1="496.60" x2="37.40" y2="496.60" stroke="#000" stroke-width="0.80" />
<text x="32.40" y="499.40" text-anchor="end" fill="#111" style="font-size:8.00px" >0.0</text>
<line x1="33.20" y1="462.40" x2="37.40" y2="462.40" stroke="#000" stroke-width="0.80" />
<text x="32.40" y="465.20" text-anchor="end" fill="#111" style="font-size:8.00px" >0.5</text>
<line x1="33.20" y1="428.20" x2="37.40" y2="428.20" stroke="#000" stroke-width="0.80" />
<text x="32.40" y="431.00" text-anchor="end" fill="#111" style="font-size:8.00px" >1.0</text>
<line x1="33.20" y1="394.00" x2="37.40" y2="394.00" stroke="#000" stroke-width="0.80" />
<text x="32.40" y="396.80" text-anchor="end" fill="#111" style="font-size:8.00px" >1.5</text>
<line x1="35.20" y1="489.76" x2="37.40" y2="489.76" stroke="#000" stroke-width="0.70" />
<line x1="35.20" y1="482.92" x2="37.40" y2="482.92" stroke="#000" stroke-width="0.70" />
<line x1="35.20" y1="476.08" x2="37.40" y2="476.08" stroke="#000" stroke-width="0.70" />
<line x1="35.20" y1="469.24" x2="37.40" y2="469.24" stroke="#000" stroke-width="0.70" />
<line x1="35.20" y1="455.56" x2="37.40" y2="455.56" stroke="#000" stroke-width="0.70" />
<line x1="35.20" y1="448.72" x2="37.40" y2="448.72" stroke="#000" stroke-width="0.70" />
<line x1="35.20" y1="441.88" x2="37.40" y2="441.88" stroke="#000" stroke-width="0.70" />
<line x1="35.20" y1="435.04" x2="37.40" y2="435.04" stroke="#000" stroke-width="0.70" />
<line x1="35.20" y1="421.36" x2="37.40" y2="421.36" stroke="#000" stroke-width="0.70" />
<line x1="35.20" y1="414.52" x2="37.40" y2="414.52" stroke="#000" stroke-width="0.70" />
<line x1="35.20" y1="407.68" x2="37.40" y2="407.68" stroke="#000" stroke-width="0.70" />
<line x1="35.20" y1="400.84" x2="37.40" y2="400.84" stroke="#000" stroke-width="0.70" />
<line x1="49.15" y1="496.60" x2="49.15" y2="500.80" stroke="#000" stroke-width="0.90" />
<text x="49.15" y="508.60" text-anchor="middle" fill="#111" style="font-size:8.30px" >2</text>
<line x1="75.25" y1="496.60" x2="75.25" y2="500.80" stroke="#000" stroke-width="0.90" />
<text x="75.25" y="508.60" text-anchor="middle" fill="#111" style="font-size:8.30px" >6</text>
<line x1="101.35" y1="496.60" x2="101.35" y2="500.80" stroke="#000" stroke-width="0.90" />
<text x="101.35" y="508.60" text-anchor="middle" fill="#111" style="font-size:8.30px" >24</text>
<line x1="127.45" y1="496.60" x2="127.45" y2="500.80" stroke="#000" stroke-width="0.90" />
<text x="127.45" y="508.60" text-anchor="middle" fill="#111" style="font-size:8.30px" >48</text>
<line x1="153.55" y1="496.60" x2="153.55" y2="500.80" stroke="#000" stroke-width="0.90" />
<text x="153.55" y="508.60" text-anchor="middle" fill="#111" style="font-size:8.30px" >72</text>
<line x1="179.65" y1="496.60" x2="179.65" y2="500.80" stroke="#000" stroke-width="0.90" />
<text x="179.65" y="508.60" text-anchor="middle" fill="#111" style="font-size:8.30px" >144</text>
<text x="114.50" y="522.00" text-anchor="middle" fill="#111" style="font-size:8.50px" >Time (hr)</text>
<text transform="translate(16.20 445.50) rotate(-90)" text-anchor="middle" fill="#111" style="font-size:8.50px" >Relative Expression</text>
<text x="114.50" y="387.60" font-style="italic" text-anchor="middle" fill="#111" style="font-size:9.90px" >DUSP4</text>
<line x1="248.75" y1="419.31" x2="248.75" y2="428.20" stroke="#222" stroke-width="0.80" />
<line x1="247.40" y1="419.31" x2="250.10" y2="419.31" stroke="#222" stroke-width="0.80" />
<rect x="246.40" y="428.20" width="4.70" height="68.40" fill="#000"/>
<line x1="255.95" y1="451.46" x2="255.95" y2="455.97" stroke="#222" stroke-width="0.80" />
<line x1="254.60" y1="451.46" x2="257.30" y2="451.46" stroke="#222" stroke-width="0.80" />
<rect x="254.10" y="456.47" width="3.70" height="40.13" fill="#fff" stroke="#000" stroke-width="1.1"/>
<line x1="263.15" y1="465.41" x2="263.15" y2="469.92" stroke="#222" stroke-width="0.80" />
<line x1="261.80" y1="465.41" x2="264.50" y2="465.41" stroke="#222" stroke-width="0.80" />
<rect x="261.25" y="470.37" width="3.80" height="26.23" fill="url(#hat)" stroke="#111" stroke-width="0.9"/>
<line x1="274.87" y1="412.47" x2="274.87" y2="428.20" stroke="#222" stroke-width="0.80" />
<line x1="273.52" y1="412.47" x2="276.22" y2="412.47" stroke="#222" stroke-width="0.80" />
<rect x="272.52" y="428.20" width="4.70" height="68.40" fill="#000"/>
<line x1="282.07" y1="484.01" x2="282.07" y2="487.37" stroke="#222" stroke-width="0.80" />
<line x1="280.72" y1="484.01" x2="283.42" y2="484.01" stroke="#222" stroke-width="0.80" />
<rect x="280.22" y="487.87" width="3.70" height="8.73" fill="#fff" stroke="#000" stroke-width="1.1"/>
<line x1="289.27" y1="492.50" x2="289.27" y2="493.39" stroke="#222" stroke-width="0.80" />
<line x1="287.92" y1="492.50" x2="290.62" y2="492.50" stroke="#222" stroke-width="0.80" />
<rect x="287.37" y="493.84" width="3.80" height="2.76" fill="url(#hat)" stroke="#111" stroke-width="0.9"/>
<line x1="300.99" y1="423.07" x2="300.99" y2="428.20" stroke="#222" stroke-width="0.80" />
<line x1="299.64" y1="423.07" x2="302.34" y2="423.07" stroke="#222" stroke-width="0.80" />
<rect x="298.64" y="428.20" width="4.70" height="68.40" fill="#000"/>
<line x1="308.19" y1="490.58" x2="308.19" y2="491.40" stroke="#222" stroke-width="0.80" />
<line x1="306.84" y1="490.58" x2="309.54" y2="490.58" stroke="#222" stroke-width="0.80" />
<rect x="306.34" y="491.90" width="3.70" height="4.70" fill="#fff" stroke="#000" stroke-width="1.1"/>
<line x1="315.39" y1="494.21" x2="315.39" y2="494.82" stroke="#222" stroke-width="0.80" />
<line x1="314.04" y1="494.21" x2="316.74" y2="494.21" stroke="#222" stroke-width="0.80" />
<rect x="313.49" y="495.27" width="3.80" height="1.33" fill="url(#hat)" stroke="#111" stroke-width="0.9"/>
<line x1="327.11" y1="399.47" x2="327.11" y2="428.20" stroke="#222" stroke-width="0.80" />
<line x1="325.76" y1="399.47" x2="328.46" y2="399.47" stroke="#222" stroke-width="0.80" />
<rect x="324.76" y="428.20" width="4.70" height="68.40" fill="#000"/>
<line x1="334.31" y1="487.71" x2="334.31" y2="488.39" stroke="#222" stroke-width="0.80" />
<line x1="332.96" y1="487.71" x2="335.66" y2="487.71" stroke="#222" stroke-width="0.80" />
<rect x="332.46" y="488.89" width="3.70" height="7.71" fill="#fff" stroke="#000" stroke-width="1.1"/>
<rect x="339.61" y="494.04" width="3.80" height="2.56" fill="url(#hat)" stroke="#111" stroke-width="0.9"/>
<line x1="353.23" y1="421.36" x2="353.23" y2="428.20" stroke="#222" stroke-width="0.80" />
<line x1="351.88" y1="421.36" x2="354.58" y2="421.36" stroke="#222" stroke-width="0.80" />
<rect x="350.88" y="428.20" width="4.70" height="68.40" fill="#000"/>
<line x1="360.43" y1="479.50" x2="360.43" y2="479.98" stroke="#222" stroke-width="0.80" />
<line x1="359.08" y1="479.50" x2="361.78" y2="479.50" stroke="#222" stroke-width="0.80" />
<rect x="358.58" y="480.48" width="3.70" height="16.12" fill="#fff" stroke="#000" stroke-width="1.1"/>
<line x1="367.63" y1="482.37" x2="367.63" y2="485.38" stroke="#222" stroke-width="0.80" />
<line x1="366.28" y1="482.37" x2="368.98" y2="482.37" stroke="#222" stroke-width="0.80" />
<rect x="365.73" y="485.83" width="3.80" height="10.77" fill="url(#hat)" stroke="#111" stroke-width="0.9"/>
<line x1="379.35" y1="426.83" x2="379.35" y2="428.20" stroke="#222" stroke-width="0.80" />
<line x1="378.00" y1="426.83" x2="380.70" y2="426.83" stroke="#222" stroke-width="0.80" />
<rect x="377.00" y="428.20" width="4.70" height="68.40" fill="#000"/>
<line x1="386.55" y1="461.37" x2="386.55" y2="466.50" stroke="#222" stroke-width="0.80" />
<line x1="385.20" y1="461.37" x2="387.90" y2="461.37" stroke="#222" stroke-width="0.80" />
<rect x="384.70" y="467.00" width="3.70" height="29.60" fill="#fff" stroke="#000" stroke-width="1.1"/>
<rect x="391.85" y="480.84" width="3.80" height="15.76" fill="url(#hat)" stroke="#111" stroke-width="0.9"/>
<line x1="243.00" y1="393.60" x2="243.00" y2="497.00" stroke="#000" stroke-width="0.90" />
<line x1="242.60" y1="496.60" x2="398.60" y2="496.60" stroke="#000" stroke-width="0.90" />
<line x1="238.80" y1="496.60" x2="243.00" y2="496.60" stroke="#000" stroke-width="0.80" />
<text x="238.00" y="499.40" text-anchor="end" fill="#111" style="font-size:8.00px" >0.0</text>
<line x1="238.80" y1="462.40" x2="243.00" y2="462.40" stroke="#000" stroke-width="0.80" />
<text x="238.00" y="465.20" text-anchor="end" fill="#111" style="font-size:8.00px" >0.5</text>
<line x1="238.80" y1="428.20" x2="243.00" y2="428.20" stroke="#000" stroke-width="0.80" />
<text x="238.00" y="431.00" text-anchor="end" fill="#111" style="font-size:8.00px" >1.0</text>
<line x1="238.80" y1="394.00" x2="243.00" y2="394.00" stroke="#000" stroke-width="0.80" />
<text x="238.00" y="396.80" text-anchor="end" fill="#111" style="font-size:8.00px" >1.5</text>
<line x1="240.80" y1="489.76" x2="243.00" y2="489.76" stroke="#000" stroke-width="0.70" />
<line x1="240.80" y1="482.92" x2="243.00" y2="482.92" stroke="#000" stroke-width="0.70" />
<line x1="240.80" y1="476.08" x2="243.00" y2="476.08" stroke="#000" stroke-width="0.70" />
<line x1="240.80" y1="469.24" x2="243.00" y2="469.24" stroke="#000" stroke-width="0.70" />
<line x1="240.80" y1="455.56" x2="243.00" y2="455.56" stroke="#000" stroke-width="0.70" />
<line x1="240.80" y1="448.72" x2="243.00" y2="448.72" stroke="#000" stroke-width="0.70" />
<line x1="240.80" y1="441.88" x2="243.00" y2="441.88" stroke="#000" stroke-width="0.70" />
<line x1="240.80" y1="435.04" x2="243.00" y2="435.04" stroke="#000" stroke-width="0.70" />
<line x1="240.80" y1="421.36" x2="243.00" y2="421.36" stroke="#000" stroke-width="0.70" />
<line x1="240.80" y1="414.52" x2="243.00" y2="414.52" stroke="#000" stroke-width="0.70" />
<line x1="240.80" y1="407.68" x2="243.00" y2="407.68" stroke="#000" stroke-width="0.70" />
<line x1="240.80" y1="400.84" x2="243.00" y2="400.84" stroke="#000" stroke-width="0.70" />
<line x1="255.95" y1="496.60" x2="255.95" y2="500.80" stroke="#000" stroke-width="0.90" />
<text x="255.95" y="508.60" text-anchor="middle" fill="#111" style="font-size:8.30px" >2</text>
<line x1="282.07" y1="496.60" x2="282.07" y2="500.80" stroke="#000" stroke-width="0.90" />
<text x="282.07" y="508.60" text-anchor="middle" fill="#111" style="font-size:8.30px" >6</text>
<line x1="308.19" y1="496.60" x2="308.19" y2="500.80" stroke="#000" stroke-width="0.90" />
<text x="308.19" y="508.60" text-anchor="middle" fill="#111" style="font-size:8.30px" >24</text>
<line x1="334.31" y1="496.60" x2="334.31" y2="500.80" stroke="#000" stroke-width="0.90" />
<text x="334.31" y="508.60" text-anchor="middle" fill="#111" style="font-size:8.30px" >48</text>
<line x1="360.43" y1="496.60" x2="360.43" y2="500.80" stroke="#000" stroke-width="0.90" />
<text x="360.43" y="508.60" text-anchor="middle" fill="#111" style="font-size:8.30px" >72</text>
<line x1="386.55" y1="496.60" x2="386.55" y2="500.80" stroke="#000" stroke-width="0.90" />
<text x="386.55" y="508.60" text-anchor="middle" fill="#111" style="font-size:8.30px" >144</text>
<text x="321.00" y="522.00" text-anchor="middle" fill="#111" style="font-size:8.50px" >Time (hr)</text>
<text transform="translate(222.20 445.50) rotate(-90)" text-anchor="middle" fill="#111" style="font-size:8.50px" >Relative Expression</text>
<text x="321.20" y="387.40" font-style="italic" text-anchor="middle" fill="#111" style="font-size:9.90px" >DUSP6</text>
<line x1="453.75" y1="404.39" x2="453.75" y2="427.07" stroke="#222" stroke-width="0.80" />
<line x1="452.40" y1="404.39" x2="455.10" y2="404.39" stroke="#222" stroke-width="0.80" />
<rect x="451.40" y="427.07" width="4.70" height="69.33" fill="#000"/>
<line x1="460.95" y1="444.40" x2="460.95" y2="454.38" stroke="#222" stroke-width="0.80" />
<line x1="459.60" y1="444.40" x2="462.30" y2="444.40" stroke="#222" stroke-width="0.80" />
<rect x="459.10" y="454.88" width="3.70" height="41.52" fill="#fff" stroke="#000" stroke-width="1.1"/>
<line x1="468.15" y1="456.39" x2="468.15" y2="463.40" stroke="#222" stroke-width="0.80" />
<line x1="466.80" y1="456.39" x2="469.50" y2="456.39" stroke="#222" stroke-width="0.80" />
<rect x="466.25" y="463.85" width="3.80" height="32.55" fill="url(#hat)" stroke="#111" stroke-width="0.9"/>
<line x1="480.13" y1="422.98" x2="480.13" y2="427.07" stroke="#222" stroke-width="0.80" />
<line x1="478.78" y1="422.98" x2="481.48" y2="422.98" stroke="#222" stroke-width="0.80" />
<rect x="477.78" y="427.07" width="4.70" height="69.33" fill="#000"/>
<line x1="487.33" y1="469.36" x2="487.33" y2="476.43" stroke="#222" stroke-width="0.80" />
<line x1="485.98" y1="469.36" x2="488.68" y2="469.36" stroke="#222" stroke-width="0.80" />
<rect x="485.48" y="476.93" width="3.70" height="19.47" fill="#fff" stroke="#000" stroke-width="1.1"/>
<line x1="494.53" y1="486.97" x2="494.53" y2="489.61" stroke="#222" stroke-width="0.80" />
<line x1="493.18" y1="486.97" x2="495.88" y2="486.97" stroke="#222" stroke-width="0.80" />
<rect x="492.63" y="490.06" width="3.80" height="6.34" fill="url(#hat)" stroke="#111" stroke-width="0.9"/>
<line x1="506.51" y1="422.98" x2="506.51" y2="427.07" stroke="#222" stroke-width="0.80" />
<line x1="505.16" y1="422.98" x2="507.86" y2="422.98" stroke="#222" stroke-width="0.80" />
<rect x="504.16" y="427.07" width="4.70" height="69.33" fill="#000"/>
<line x1="513.71" y1="475.39" x2="513.71" y2="480.45" stroke="#222" stroke-width="0.80" />
<line x1="512.36" y1="475.39" x2="515.06" y2="475.39" stroke="#222" stroke-width="0.80" />
<rect x="511.86" y="480.95" width="3.70" height="15.45" fill="#fff" stroke="#000" stroke-width="1.1"/>
<line x1="520.91" y1="488.43" x2="520.91" y2="489.61" stroke="#222" stroke-width="0.80" />
<line x1="519.56" y1="488.43" x2="522.26" y2="488.43" stroke="#222" stroke-width="0.80" />
<rect x="519.01" y="490.06" width="3.80" height="6.34" fill="url(#hat)" stroke="#111" stroke-width="0.9"/>
<line x1="532.89" y1="405.57" x2="532.89" y2="427.07" stroke="#222" stroke-width="0.80" />
<line x1="531.54" y1="405.57" x2="534.24" y2="405.57" stroke="#222" stroke-width="0.80" />
<rect x="530.54" y="427.07" width="4.70" height="69.33" fill="#000"/>
<line x1="540.09" y1="484.61" x2="540.09" y2="486.62" stroke="#222" stroke-width="0.80" />
<line x1="538.74" y1="484.61" x2="541.44" y2="484.61" stroke="#222" stroke-width="0.80" />
<rect x="538.24" y="487.12" width="3.70" height="9.28" fill="#fff" stroke="#000" stroke-width="1.1"/>
<rect x="545.39" y="494.08" width="3.80" height="2.32" fill="url(#hat)" stroke="#111" stroke-width="0.9"/>
<line x1="559.27" y1="422.98" x2="559.27" y2="427.07" stroke="#222" stroke-width="0.80" />
<line x1="557.92" y1="422.98" x2="560.62" y2="422.98" stroke="#222" stroke-width="0.80" />
<rect x="556.92" y="427.07" width="4.70" height="69.33" fill="#000"/>
<line x1="566.47" y1="479.41" x2="566.47" y2="480.59" stroke="#222" stroke-width="0.80" />
<line x1="565.12" y1="479.41" x2="567.82" y2="479.41" stroke="#222" stroke-width="0.80" />
<rect x="564.62" y="481.09" width="3.70" height="15.31" fill="#fff" stroke="#000" stroke-width="1.1"/>
<line x1="573.67" y1="467.97" x2="573.67" y2="475.39" stroke="#222" stroke-width="0.80" />
<line x1="572.32" y1="467.97" x2="575.02" y2="467.97" stroke="#222" stroke-width="0.80" />
<rect x="571.77" y="475.84" width="3.80" height="20.56" fill="url(#hat)" stroke="#111" stroke-width="0.9"/>
<line x1="585.65" y1="419.02" x2="585.65" y2="427.07" stroke="#222" stroke-width="0.80" />
<line x1="584.30" y1="419.02" x2="587.00" y2="419.02" stroke="#222" stroke-width="0.80" />
<rect x="583.30" y="427.07" width="4.70" height="69.33" fill="#000"/>
<line x1="592.85" y1="444.40" x2="592.85" y2="455.01" stroke="#222" stroke-width="0.80" />
<line x1="591.50" y1="444.40" x2="594.20" y2="444.40" stroke="#222" stroke-width="0.80" />
<rect x="591.00" y="455.51" width="3.70" height="40.89" fill="#fff" stroke="#000" stroke-width="1.1"/>
<rect x="598.15" y="464.96" width="3.80" height="31.44" fill="url(#hat)" stroke="#111" stroke-width="0.9"/>
<line x1="448.80" y1="392.00" x2="448.80" y2="496.80" stroke="#000" stroke-width="0.90" />
<line x1="448.40" y1="496.40" x2="605.60" y2="496.40" stroke="#000" stroke-width="0.90" />
<line x1="444.60" y1="496.40" x2="448.80" y2="496.40" stroke="#000" stroke-width="0.80" />
<text x="443.80" y="499.20" text-anchor="end" fill="#111" style="font-size:8.00px" >0.0</text>
<line x1="444.60" y1="461.73" x2="448.80" y2="461.73" stroke="#000" stroke-width="0.80" />
<text x="443.80" y="464.53" text-anchor="end" fill="#111" style="font-size:8.00px" >0.5</text>
<line x1="444.60" y1="427.07" x2="448.80" y2="427.07" stroke="#000" stroke-width="0.80" />
<text x="443.80" y="429.87" text-anchor="end" fill="#111" style="font-size:8.00px" >1.0</text>
<line x1="444.60" y1="392.40" x2="448.80" y2="392.40" stroke="#000" stroke-width="0.80" />
<text x="443.80" y="395.20" text-anchor="end" fill="#111" style="font-size:8.00px" >1.5</text>
<line x1="446.60" y1="489.47" x2="448.80" y2="489.47" stroke="#000" stroke-width="0.70" />
<line x1="446.60" y1="482.53" x2="448.80" y2="482.53" stroke="#000" stroke-width="0.70" />
<line x1="446.60" y1="475.60" x2="448.80" y2="475.60" stroke="#000" stroke-width="0.70" />
<line x1="446.60" y1="468.67" x2="448.80" y2="468.67" stroke="#000" stroke-width="0.70" />
<line x1="446.60" y1="454.80" x2="448.80" y2="454.80" stroke="#000" stroke-width="0.70" />
<line x1="446.60" y1="447.87" x2="448.80" y2="447.87" stroke="#000" stroke-width="0.70" />
<line x1="446.60" y1="440.93" x2="448.80" y2="440.93" stroke="#000" stroke-width="0.70" />
<line x1="446.60" y1="434.00" x2="448.80" y2="434.00" stroke="#000" stroke-width="0.70" />
<line x1="446.60" y1="420.13" x2="448.80" y2="420.13" stroke="#000" stroke-width="0.70" />
<line x1="446.60" y1="413.20" x2="448.80" y2="413.20" stroke="#000" stroke-width="0.70" />
<line x1="446.60" y1="406.27" x2="448.80" y2="406.27" stroke="#000" stroke-width="0.70" />
<line x1="446.60" y1="399.33" x2="448.80" y2="399.33" stroke="#000" stroke-width="0.70" />
<line x1="460.95" y1="496.40" x2="460.95" y2="500.60" stroke="#000" stroke-width="0.90" />
<text x="460.95" y="508.40" text-anchor="middle" fill="#111" style="font-size:8.30px" >2</text>
<line x1="487.33" y1="496.40" x2="487.33" y2="500.60" stroke="#000" stroke-width="0.90" />
<text x="487.33" y="508.40" text-anchor="middle" fill="#111" style="font-size:8.30px" >6</text>
<line x1="513.71" y1="496.40" x2="513.71" y2="500.60" stroke="#000" stroke-width="0.90" />
<text x="513.71" y="508.40" text-anchor="middle" fill="#111" style="font-size:8.30px" >24</text>
<line x1="540.09" y1="496.40" x2="540.09" y2="500.60" stroke="#000" stroke-width="0.90" />
<text x="540.09" y="508.40" text-anchor="middle" fill="#111" style="font-size:8.30px" >48</text>
<line x1="566.47" y1="496.40" x2="566.47" y2="500.60" stroke="#000" stroke-width="0.90" />
<text x="566.47" y="508.40" text-anchor="middle" fill="#111" style="font-size:8.30px" >72</text>
<line x1="592.85" y1="496.40" x2="592.85" y2="500.60" stroke="#000" stroke-width="0.90" />
<text x="592.85" y="508.40" text-anchor="middle" fill="#111" style="font-size:8.30px" >144</text>
<text x="527.00" y="522.00" text-anchor="middle" fill="#111" style="font-size:8.50px" >Time (hr)</text>
<text transform="translate(427.60 445.00) rotate(-90)" text-anchor="middle" fill="#111" style="font-size:8.50px" >Relative Expression</text>
<text x="527.00" y="388.00" font-style="italic" text-anchor="middle" fill="#111" style="font-size:9.90px" >SPRY4</text>
<rect x="611.40" y="396.80" width="5.2" height="5.2" fill="#000"/>
<text x="625.40" y="402.00" text-anchor="start" fill="#111" style="font-size:8.50px" >Vehicle</text>
<rect x="611.80" y="411.40" width="4.4" height="4.4" fill="#fff" stroke="#000" stroke-width="0.8"/>
<text x="625.40" y="417.00" text-anchor="start" fill="#111" style="font-size:8.50px" >10 mg kg<tspan dx="0.3" dy="-3.57" font-size="5.95">−1</tspan></text>
<rect x="611.80" y="426.20" width="4.4" height="4.4" fill="url(#hat)" stroke="#222" stroke-width="0.8"/>
<text x="625.40" y="431.60" text-anchor="start" fill="#111" style="font-size:8.50px" >30 mg kg<tspan dx="0.3" dy="-3.57" font-size="5.95">−1</tspan></text>
<line x1="41.95" y1="588.18" x2="41.95" y2="588.87" stroke="#222" stroke-width="0.80" />
<line x1="40.60" y1="588.18" x2="43.30" y2="588.18" stroke="#222" stroke-width="0.80" />
<rect x="39.60" y="588.87" width="4.70" height="68.53" fill="#000"/>
<line x1="49.15" y1="570.36" x2="49.15" y2="584.07" stroke="#222" stroke-width="0.80" />
<line x1="47.80" y1="570.36" x2="50.50" y2="570.36" stroke="#222" stroke-width="0.80" />
<rect x="47.30" y="584.57" width="3.70" height="72.83" fill="#fff" stroke="#000" stroke-width="1.1"/>
<line x1="56.35" y1="587.50" x2="56.35" y2="596.41" stroke="#222" stroke-width="0.80" />
<line x1="55.00" y1="587.50" x2="57.70" y2="587.50" stroke="#222" stroke-width="0.80" />
<rect x="54.45" y="596.86" width="3.80" height="60.54" fill="url(#hat)" stroke="#111" stroke-width="0.9"/>
<line x1="68.05" y1="572.62" x2="68.05" y2="588.87" stroke="#222" stroke-width="0.80" />
<line x1="66.70" y1="572.62" x2="69.40" y2="572.62" stroke="#222" stroke-width="0.80" />
<rect x="65.70" y="588.87" width="4.70" height="68.53" fill="#000"/>
<line x1="75.25" y1="602.57" x2="75.25" y2="610.59" stroke="#222" stroke-width="0.80" />
<line x1="73.90" y1="602.57" x2="76.60" y2="602.57" stroke="#222" stroke-width="0.80" />
<rect x="73.40" y="611.09" width="3.70" height="46.31" fill="#fff" stroke="#000" stroke-width="1.1"/>
<line x1="82.45" y1="598.46" x2="82.45" y2="607.03" stroke="#222" stroke-width="0.80" />
<line x1="81.10" y1="598.46" x2="83.80" y2="598.46" stroke="#222" stroke-width="0.80" />
<rect x="80.55" y="607.48" width="3.80" height="49.92" fill="url(#hat)" stroke="#111" stroke-width="0.9"/>
<line x1="94.15" y1="583.38" x2="94.15" y2="588.87" stroke="#222" stroke-width="0.80" />
<line x1="92.80" y1="583.38" x2="95.50" y2="583.38" stroke="#222" stroke-width="0.80" />
<rect x="91.80" y="588.87" width="4.70" height="68.53" fill="#000"/>
<line x1="101.35" y1="651.57" x2="101.35" y2="653.01" stroke="#222" stroke-width="0.80" />
<line x1="100.00" y1="651.57" x2="102.70" y2="651.57" stroke="#222" stroke-width="0.80" />
<rect x="99.50" y="653.51" width="3.70" height="3.89" fill="#fff" stroke="#000" stroke-width="1.1"/>
<line x1="108.55" y1="656.03" x2="108.55" y2="656.37" stroke="#222" stroke-width="0.80" />
<line x1="107.20" y1="656.03" x2="109.90" y2="656.03" stroke="#222" stroke-width="0.80" />
<rect x="106.65" y="656.82" width="3.80" height="0.58" fill="url(#hat)" stroke="#111" stroke-width="0.9"/>
<line x1="120.25" y1="577.42" x2="120.25" y2="588.87" stroke="#222" stroke-width="0.80" />
<line x1="118.90" y1="577.42" x2="121.60" y2="577.42" stroke="#222" stroke-width="0.80" />
<rect x="117.90" y="588.87" width="4.70" height="68.53" fill="#000"/>
<line x1="127.45" y1="648.63" x2="127.45" y2="651.03" stroke="#222" stroke-width="0.80" />
<line x1="126.10" y1="648.63" x2="128.80" y2="648.63" stroke="#222" stroke-width="0.80" />
<rect x="125.60" y="651.53" width="3.70" height="5.87" fill="#fff" stroke="#000" stroke-width="1.1"/>
<rect x="132.75" y="657.51" width="3.80" height="0.10" fill="url(#hat)" stroke="#111" stroke-width="0.9"/>
<line x1="146.35" y1="574.61" x2="146.35" y2="588.87" stroke="#222" stroke-width="0.80" />
<line x1="145.00" y1="574.61" x2="147.70" y2="574.61" stroke="#222" stroke-width="0.80" />
<rect x="144.00" y="588.87" width="4.70" height="68.53" fill="#000"/>
<line x1="153.55" y1="641.43" x2="153.55" y2="643.42" stroke="#222" stroke-width="0.80" />
<line x1="152.20" y1="641.43" x2="154.90" y2="641.43" stroke="#222" stroke-width="0.80" />
<rect x="151.70" y="643.92" width="3.70" height="13.48" fill="#fff" stroke="#000" stroke-width="1.1"/>
<line x1="160.75" y1="649.18" x2="160.75" y2="651.40" stroke="#222" stroke-width="0.80" />
<line x1="159.40" y1="649.18" x2="162.10" y2="649.18" stroke="#222" stroke-width="0.80" />
<rect x="158.85" y="651.85" width="3.80" height="5.55" fill="url(#hat)" stroke="#111" stroke-width="0.9"/>
<line x1="172.45" y1="582.42" x2="172.45" y2="588.87" stroke="#222" stroke-width="0.80" />
<line x1="171.10" y1="582.42" x2="173.80" y2="582.42" stroke="#222" stroke-width="0.80" />
<rect x="170.10" y="588.87" width="4.70" height="68.53" fill="#000"/>
<line x1="179.65" y1="634.44" x2="179.65" y2="636.43" stroke="#222" stroke-width="0.80" />
<line x1="178.30" y1="634.44" x2="181.00" y2="634.44" stroke="#222" stroke-width="0.80" />
<rect x="177.80" y="636.93" width="3.70" height="20.47" fill="#fff" stroke="#000" stroke-width="1.1"/>
<rect x="184.95" y="638.87" width="3.80" height="18.53" fill="url(#hat)" stroke="#111" stroke-width="0.9"/>
<line x1="37.40" y1="554.20" x2="37.40" y2="657.80" stroke="#000" stroke-width="0.90" />
<line x1="37.00" y1="657.40" x2="191.60" y2="657.40" stroke="#000" stroke-width="0.90" />
<line x1="33.20" y1="657.40" x2="37.40" y2="657.40" stroke="#000" stroke-width="0.80" />
<text x="32.40" y="660.20" text-anchor="end" fill="#111" style="font-size:8.00px" >0.0</text>
<line x1="33.20" y1="623.13" x2="37.40" y2="623.13" stroke="#000" stroke-width="0.80" />
<text x="32.40" y="625.93" text-anchor="end" fill="#111" style="font-size:8.00px" >0.5</text>
<line x1="33.20" y1="588.87" x2="37.40" y2="588.87" stroke="#000" stroke-width="0.80" />
<text x="32.40" y="591.67" text-anchor="end" fill="#111" style="font-size:8.00px" >1.0</text>
<line x1="33.20" y1="554.60" x2="37.40" y2="554.60" stroke="#000" stroke-width="0.80" />
<text x="32.40" y="557.40" text-anchor="end" fill="#111" style="font-size:8.00px" >1.5</text>
<line x1="35.20" y1="650.55" x2="37.40" y2="650.55" stroke="#000" stroke-width="0.70" />
<line x1="35.20" y1="643.69" x2="37.40" y2="643.69" stroke="#000" stroke-width="0.70" />
<line x1="35.20" y1="636.84" x2="37.40" y2="636.84" stroke="#000" stroke-width="0.70" />
<line x1="35.20" y1="629.99" x2="37.40" y2="629.99" stroke="#000" stroke-width="0.70" />
<line x1="35.20" y1="616.28" x2="37.40" y2="616.28" stroke="#000" stroke-width="0.70" />
<line x1="35.20" y1="609.43" x2="37.40" y2="609.43" stroke="#000" stroke-width="0.70" />
<line x1="35.20" y1="602.57" x2="37.40" y2="602.57" stroke="#000" stroke-width="0.70" />
<line x1="35.20" y1="595.72" x2="37.40" y2="595.72" stroke="#000" stroke-width="0.70" />
<line x1="35.20" y1="582.01" x2="37.40" y2="582.01" stroke="#000" stroke-width="0.70" />
<line x1="35.20" y1="575.16" x2="37.40" y2="575.16" stroke="#000" stroke-width="0.70" />
<line x1="35.20" y1="568.31" x2="37.40" y2="568.31" stroke="#000" stroke-width="0.70" />
<line x1="35.20" y1="561.45" x2="37.40" y2="561.45" stroke="#000" stroke-width="0.70" />
<line x1="49.15" y1="657.40" x2="49.15" y2="661.60" stroke="#000" stroke-width="0.90" />
<text x="49.15" y="669.00" text-anchor="middle" fill="#111" style="font-size:8.30px" >2</text>
<line x1="75.25" y1="657.40" x2="75.25" y2="661.60" stroke="#000" stroke-width="0.90" />
<text x="75.25" y="669.00" text-anchor="middle" fill="#111" style="font-size:8.30px" >6</text>
<line x1="101.35" y1="657.40" x2="101.35" y2="661.60" stroke="#000" stroke-width="0.90" />
<text x="101.35" y="669.00" text-anchor="middle" fill="#111" style="font-size:8.30px" >24</text>
<line x1="127.45" y1="657.40" x2="127.45" y2="661.60" stroke="#000" stroke-width="0.90" />
<text x="127.45" y="669.00" text-anchor="middle" fill="#111" style="font-size:8.30px" >48</text>
<line x1="153.55" y1="657.40" x2="153.55" y2="661.60" stroke="#000" stroke-width="0.90" />
<text x="153.55" y="669.00" text-anchor="middle" fill="#111" style="font-size:8.30px" >72</text>
<line x1="179.65" y1="657.40" x2="179.65" y2="661.60" stroke="#000" stroke-width="0.90" />
<text x="179.65" y="669.00" text-anchor="middle" fill="#111" style="font-size:8.30px" >144</text>
<text x="114.50" y="682.50" text-anchor="middle" fill="#111" style="font-size:8.50px" >Time (hr)</text>
<text transform="translate(16.20 606.00) rotate(-90)" text-anchor="middle" fill="#111" style="font-size:8.50px" >Relative Expression</text>
<text x="114.20" y="552.40" font-style="italic" text-anchor="middle" fill="#111" style="font-size:9.90px" >ETV4</text>
<line x1="248.35" y1="582.44" x2="248.35" y2="588.60" stroke="#222" stroke-width="0.80" />
<line x1="247.00" y1="582.44" x2="249.70" y2="582.44" stroke="#222" stroke-width="0.80" />
<rect x="246.00" y="588.60" width="4.70" height="68.40" fill="#000"/>
<line x1="255.55" y1="575.60" x2="255.55" y2="592.02" stroke="#222" stroke-width="0.80" />
<line x1="254.20" y1="575.60" x2="256.90" y2="575.60" stroke="#222" stroke-width="0.80" />
<rect x="253.70" y="592.52" width="3.70" height="64.48" fill="#fff" stroke="#000" stroke-width="1.1"/>
<line x1="262.75" y1="567.40" x2="262.75" y2="587.44" stroke="#222" stroke-width="0.80" />
<line x1="261.40" y1="567.40" x2="264.10" y2="567.40" stroke="#222" stroke-width="0.80" />
<rect x="260.85" y="587.89" width="3.80" height="69.11" fill="url(#hat)" stroke="#111" stroke-width="0.9"/>
<line x1="274.45" y1="568.42" x2="274.45" y2="588.60" stroke="#222" stroke-width="0.80" />
<line x1="273.10" y1="568.42" x2="275.80" y2="568.42" stroke="#222" stroke-width="0.80" />
<rect x="272.10" y="588.60" width="4.70" height="68.40" fill="#000"/>
<line x1="281.65" y1="641.40" x2="281.65" y2="644.41" stroke="#222" stroke-width="0.80" />
<line x1="280.30" y1="641.40" x2="283.00" y2="641.40" stroke="#222" stroke-width="0.80" />
<rect x="279.80" y="644.91" width="3.70" height="12.09" fill="#fff" stroke="#000" stroke-width="1.1"/>
<line x1="288.85" y1="649.48" x2="288.85" y2="650.43" stroke="#222" stroke-width="0.80" />
<line x1="287.50" y1="649.48" x2="290.20" y2="649.48" stroke="#222" stroke-width="0.80" />
<rect x="286.95" y="650.88" width="3.80" height="6.12" fill="url(#hat)" stroke="#111" stroke-width="0.9"/>
<line x1="300.55" y1="584.02" x2="300.55" y2="588.60" stroke="#222" stroke-width="0.80" />
<line x1="299.20" y1="584.02" x2="301.90" y2="584.02" stroke="#222" stroke-width="0.80" />
<rect x="298.20" y="588.60" width="4.70" height="68.40" fill="#000"/>
<line x1="307.75" y1="650.57" x2="307.75" y2="652.01" stroke="#222" stroke-width="0.80" />
<line x1="306.40" y1="650.57" x2="309.10" y2="650.57" stroke="#222" stroke-width="0.80" />
<rect x="305.90" y="652.51" width="3.70" height="4.49" fill="#fff" stroke="#000" stroke-width="1.1"/>
<line x1="314.95" y1="654.26" x2="314.95" y2="654.95" stroke="#222" stroke-width="0.80" />
<line x1="313.60" y1="654.26" x2="316.30" y2="654.26" stroke="#222" stroke-width="0.80" />
<rect x="313.05" y="655.40" width="3.80" height="1.60" fill="url(#hat)" stroke="#111" stroke-width="0.9"/>
<line x1="326.65" y1="578.34" x2="326.65" y2="588.60" stroke="#222" stroke-width="0.80" />
<line x1="325.30" y1="578.34" x2="328.00" y2="578.34" stroke="#222" stroke-width="0.80" />
<rect x="324.30" y="588.60" width="4.70" height="68.40" fill="#000"/>
<line x1="333.85" y1="647.42" x2="333.85" y2="650.02" stroke="#222" stroke-width="0.80" />
<line x1="332.50" y1="647.42" x2="335.20" y2="647.42" stroke="#222" stroke-width="0.80" />
<rect x="332.00" y="650.52" width="3.70" height="6.48" fill="#fff" stroke="#000" stroke-width="1.1"/>
<rect x="339.15" y="656.77" width="3.80" height="0.23" fill="url(#hat)" stroke="#111" stroke-width="0.9"/>
<line x1="352.75" y1="574.37" x2="352.75" y2="588.60" stroke="#222" stroke-width="0.80" />
<line x1="351.40" y1="574.37" x2="354.10" y2="574.37" stroke="#222" stroke-width="0.80" />
<rect x="350.40" y="588.60" width="4.70" height="68.40" fill="#000"/>
<line x1="359.95" y1="647.42" x2="359.95" y2="647.97" stroke="#222" stroke-width="0.80" />
<line x1="358.60" y1="647.42" x2="361.30" y2="647.42" stroke="#222" stroke-width="0.80" />
<rect x="358.10" y="648.47" width="3.70" height="8.53" fill="#fff" stroke="#000" stroke-width="1.1"/>
<line x1="367.15" y1="649.48" x2="367.15" y2="651.39" stroke="#222" stroke-width="0.80" />
<line x1="365.80" y1="649.48" x2="368.50" y2="649.48" stroke="#222" stroke-width="0.80" />
<rect x="365.25" y="651.84" width="3.80" height="5.16" fill="url(#hat)" stroke="#111" stroke-width="0.9"/>
<line x1="378.85" y1="583.13" x2="378.85" y2="588.60" stroke="#222" stroke-width="0.80" />
<line x1="377.50" y1="583.13" x2="380.20" y2="583.13" stroke="#222" stroke-width="0.80" />
<rect x="376.50" y="588.60" width="4.70" height="68.40" fill="#000"/>
<line x1="386.05" y1="635.39" x2="386.05" y2="638.60" stroke="#222" stroke-width="0.80" />
<line x1="384.70" y1="635.39" x2="387.40" y2="635.39" stroke="#222" stroke-width="0.80" />
<rect x="384.20" y="639.10" width="3.70" height="17.90" fill="#fff" stroke="#000" stroke-width="1.1"/>
<rect x="391.35" y="642.88" width="3.80" height="14.12" fill="url(#hat)" stroke="#111" stroke-width="0.9"/>
<line x1="243.00" y1="554.00" x2="243.00" y2="657.40" stroke="#000" stroke-width="0.90" />
<line x1="242.60" y1="657.00" x2="398.60" y2="657.00" stroke="#000" stroke-width="0.90" />
<line x1="238.80" y1="657.00" x2="243.00" y2="657.00" stroke="#000" stroke-width="0.80" />
<text x="238.00" y="659.80" text-anchor="end" fill="#111" style="font-size:8.00px" >0.0</text>
<line x1="238.80" y1="622.80" x2="243.00" y2="622.80" stroke="#000" stroke-width="0.80" />
<text x="238.00" y="625.60" text-anchor="end" fill="#111" style="font-size:8.00px" >0.5</text>
<line x1="238.80" y1="588.60" x2="243.00" y2="588.60" stroke="#000" stroke-width="0.80" />
<text x="238.00" y="591.40" text-anchor="end" fill="#111" style="font-size:8.00px" >1.0</text>
<line x1="238.80" y1="554.40" x2="243.00" y2="554.40" stroke="#000" stroke-width="0.80" />
<text x="238.00" y="557.20" text-anchor="end" fill="#111" style="font-size:8.00px" >1.5</text>
<line x1="240.80" y1="650.16" x2="243.00" y2="650.16" stroke="#000" stroke-width="0.70" />
<line x1="240.80" y1="643.32" x2="243.00" y2="643.32" stroke="#000" stroke-width="0.70" />
<line x1="240.80" y1="636.48" x2="243.00" y2="636.48" stroke="#000" stroke-width="0.70" />
<line x1="240.80" y1="629.64" x2="243.00" y2="629.64" stroke="#000" stroke-width="0.70" />
<line x1="240.80" y1="615.96" x2="243.00" y2="615.96" stroke="#000" stroke-width="0.70" />
<line x1="240.80" y1="609.12" x2="243.00" y2="609.12" stroke="#000" stroke-width="0.70" />
<line x1="240.80" y1="602.28" x2="243.00" y2="602.28" stroke="#000" stroke-width="0.70" />
<line x1="240.80" y1="595.44" x2="243.00" y2="595.44" stroke="#000" stroke-width="0.70" />
<line x1="240.80" y1="581.76" x2="243.00" y2="581.76" stroke="#000" stroke-width="0.70" />
<line x1="240.80" y1="574.92" x2="243.00" y2="574.92" stroke="#000" stroke-width="0.70" />
<line x1="240.80" y1="568.08" x2="243.00" y2="568.08" stroke="#000" stroke-width="0.70" />
<line x1="240.80" y1="561.24" x2="243.00" y2="561.24" stroke="#000" stroke-width="0.70" />
<line x1="255.55" y1="657.00" x2="255.55" y2="661.20" stroke="#000" stroke-width="0.90" />
<text x="255.55" y="669.00" text-anchor="middle" fill="#111" style="font-size:8.30px" >2</text>
<line x1="281.65" y1="657.00" x2="281.65" y2="661.20" stroke="#000" stroke-width="0.90" />
<text x="281.65" y="669.00" text-anchor="middle" fill="#111" style="font-size:8.30px" >6</text>
<line x1="307.75" y1="657.00" x2="307.75" y2="661.20" stroke="#000" stroke-width="0.90" />
<text x="307.75" y="669.00" text-anchor="middle" fill="#111" style="font-size:8.30px" >24</text>
<line x1="333.85" y1="657.00" x2="333.85" y2="661.20" stroke="#000" stroke-width="0.90" />
<text x="333.85" y="669.00" text-anchor="middle" fill="#111" style="font-size:8.30px" >48</text>
<line x1="359.95" y1="657.00" x2="359.95" y2="661.20" stroke="#000" stroke-width="0.90" />
<text x="359.95" y="669.00" text-anchor="middle" fill="#111" style="font-size:8.30px" >72</text>
<line x1="386.05" y1="657.00" x2="386.05" y2="661.20" stroke="#000" stroke-width="0.90" />
<text x="386.05" y="669.00" text-anchor="middle" fill="#111" style="font-size:8.30px" >144</text>
<text x="320.60" y="682.50" text-anchor="middle" fill="#111" style="font-size:8.50px" >Time (hr)</text>
<text transform="translate(222.20 606.00) rotate(-90)" text-anchor="middle" fill="#111" style="font-size:8.50px" >Relative Expression</text>
<text x="320.50" y="552.00" font-style="italic" text-anchor="middle" fill="#111" style="font-size:9.90px" >FOSL1</text>
<line x1="453.85" y1="577.38" x2="453.85" y2="588.60" stroke="#222" stroke-width="0.80" />
<line x1="452.50" y1="577.38" x2="455.20" y2="577.38" stroke="#222" stroke-width="0.80" />
<rect x="451.50" y="588.60" width="4.70" height="68.40" fill="#000"/>
<line x1="461.05" y1="605.43" x2="461.05" y2="612.40" stroke="#222" stroke-width="0.80" />
<line x1="459.70" y1="605.43" x2="462.40" y2="605.43" stroke="#222" stroke-width="0.80" />
<rect x="459.20" y="612.90" width="3.70" height="44.10" fill="#fff" stroke="#000" stroke-width="1.1"/>
<line x1="468.25" y1="610.49" x2="468.25" y2="619.38" stroke="#222" stroke-width="0.80" />
<line x1="466.90" y1="610.49" x2="469.60" y2="610.49" stroke="#222" stroke-width="0.80" />
<rect x="466.35" y="619.83" width="3.80" height="37.17" fill="url(#hat)" stroke="#111" stroke-width="0.9"/>
<line x1="480.01" y1="572.59" x2="480.01" y2="588.60" stroke="#222" stroke-width="0.80" />
<line x1="478.66" y1="572.59" x2="481.36" y2="572.59" stroke="#222" stroke-width="0.80" />
<rect x="477.66" y="588.60" width="4.70" height="68.40" fill="#000"/>
<line x1="487.21" y1="617.40" x2="487.21" y2="622.39" stroke="#222" stroke-width="0.80" />
<line x1="485.86" y1="617.40" x2="488.56" y2="617.40" stroke="#222" stroke-width="0.80" />
<rect x="485.36" y="622.89" width="3.70" height="34.11" fill="#fff" stroke="#000" stroke-width="1.1"/>
<line x1="494.41" y1="624.51" x2="494.41" y2="625.60" stroke="#222" stroke-width="0.80" />
<line x1="493.06" y1="624.51" x2="495.76" y2="624.51" stroke="#222" stroke-width="0.80" />
<rect x="492.51" y="626.05" width="3.80" height="30.95" fill="url(#hat)" stroke="#111" stroke-width="0.9"/>
<line x1="506.17" y1="581.42" x2="506.17" y2="588.60" stroke="#222" stroke-width="0.80" />
<line x1="504.82" y1="581.42" x2="507.52" y2="581.42" stroke="#222" stroke-width="0.80" />
<rect x="503.82" y="588.60" width="4.70" height="68.40" fill="#000"/>
<line x1="513.37" y1="621.43" x2="513.37" y2="629.40" stroke="#222" stroke-width="0.80" />
<line x1="512.02" y1="621.43" x2="514.72" y2="621.43" stroke="#222" stroke-width="0.80" />
<rect x="511.52" y="629.90" width="3.70" height="27.10" fill="#fff" stroke="#000" stroke-width="1.1"/>
<line x1="520.57" y1="629.40" x2="520.57" y2="632.38" stroke="#222" stroke-width="0.80" />
<line x1="519.22" y1="629.40" x2="521.92" y2="629.40" stroke="#222" stroke-width="0.80" />
<rect x="518.67" y="632.83" width="3.80" height="24.17" fill="url(#hat)" stroke="#111" stroke-width="0.9"/>
<line x1="532.33" y1="578.34" x2="532.33" y2="588.60" stroke="#222" stroke-width="0.80" />
<line x1="530.98" y1="578.34" x2="533.68" y2="578.34" stroke="#222" stroke-width="0.80" />
<rect x="529.98" y="588.60" width="4.70" height="68.40" fill="#000"/>
<line x1="539.53" y1="620.41" x2="539.53" y2="621.43" stroke="#222" stroke-width="0.80" />
<line x1="538.18" y1="620.41" x2="540.88" y2="620.41" stroke="#222" stroke-width="0.80" />
<rect x="537.68" y="621.93" width="3.70" height="35.07" fill="#fff" stroke="#000" stroke-width="1.1"/>
<rect x="544.83" y="647.87" width="3.80" height="9.13" fill="url(#hat)" stroke="#111" stroke-width="0.9"/>
<line x1="558.49" y1="579.37" x2="558.49" y2="588.60" stroke="#222" stroke-width="0.80" />
<line x1="557.14" y1="579.37" x2="559.84" y2="579.37" stroke="#222" stroke-width="0.80" />
<rect x="556.14" y="588.60" width="4.70" height="68.40" fill="#000"/>
<line x1="565.69" y1="609.60" x2="565.69" y2="613.98" stroke="#222" stroke-width="0.80" />
<line x1="564.34" y1="609.60" x2="567.04" y2="609.60" stroke="#222" stroke-width="0.80" />
<rect x="563.84" y="614.48" width="3.70" height="42.52" fill="#fff" stroke="#000" stroke-width="1.1"/>
<line x1="572.89" y1="618.42" x2="572.89" y2="624.37" stroke="#222" stroke-width="0.80" />
<line x1="571.54" y1="618.42" x2="574.24" y2="618.42" stroke="#222" stroke-width="0.80" />
<rect x="570.99" y="624.82" width="3.80" height="32.18" fill="url(#hat)" stroke="#111" stroke-width="0.9"/>
<line x1="584.65" y1="583.40" x2="584.65" y2="588.60" stroke="#222" stroke-width="0.80" />
<line x1="583.30" y1="583.40" x2="586.00" y2="583.40" stroke="#222" stroke-width="0.80" />
<rect x="582.30" y="588.60" width="4.70" height="68.40" fill="#000"/>
<line x1="591.85" y1="604.40" x2="591.85" y2="610.49" stroke="#222" stroke-width="0.80" />
<line x1="590.50" y1="604.40" x2="593.20" y2="604.40" stroke="#222" stroke-width="0.80" />
<rect x="590.00" y="610.99" width="3.70" height="46.01" fill="#fff" stroke="#000" stroke-width="1.1"/>
<rect x="597.15" y="625.44" width="3.80" height="31.56" fill="url(#hat)" stroke="#111" stroke-width="0.9"/>
<line x1="448.90" y1="554.00" x2="448.90" y2="657.40" stroke="#000" stroke-width="0.90" />
<line x1="448.50" y1="657.00" x2="603.60" y2="657.00" stroke="#000" stroke-width="0.90" />
<line x1="444.70" y1="657.00" x2="448.90" y2="657.00" stroke="#000" stroke-width="0.80" />
<text x="443.90" y="659.80" text-anchor="end" fill="#111" style="font-size:8.00px" >0.0</text>
<line x1="444.70" y1="622.80" x2="448.90" y2="622.80" stroke="#000" stroke-width="0.80" />
<text x="443.90" y="625.60" text-anchor="end" fill="#111" style="font-size:8.00px" >0.5</text>
<line x1="444.70" y1="588.60" x2="448.90" y2="588.60" stroke="#000" stroke-width="0.80" />
<text x="443.90" y="591.40" text-anchor="end" fill="#111" style="font-size:8.00px" >1.0</text>
<line x1="444.70" y1="554.40" x2="448.90" y2="554.40" stroke="#000" stroke-width="0.80" />
<text x="443.90" y="557.20" text-anchor="end" fill="#111" style="font-size:8.00px" >1.5</text>
<line x1="446.70" y1="650.16" x2="448.90" y2="650.16" stroke="#000" stroke-width="0.70" />
<line x1="446.70" y1="643.32" x2="448.90" y2="643.32" stroke="#000" stroke-width="0.70" />
<line x1="446.70" y1="636.48" x2="448.90" y2="636.48" stroke="#000" stroke-width="0.70" />
<line x1="446.70" y1="629.64" x2="448.90" y2="629.64" stroke="#000" stroke-width="0.70" />
<line x1="446.70" y1="615.96" x2="448.90" y2="615.96" stroke="#000" stroke-width="0.70" />
<line x1="446.70" y1="609.12" x2="448.90" y2="609.12" stroke="#000" stroke-width="0.70" />
<line x1="446.70" y1="602.28" x2="448.90" y2="602.28" stroke="#000" stroke-width="0.70" />
<line x1="446.70" y1="595.44" x2="448.90" y2="595.44" stroke="#000" stroke-width="0.70" />
<line x1="446.70" y1="581.76" x2="448.90" y2="581.76" stroke="#000" stroke-width="0.70" />
<line x1="446.70" y1="574.92" x2="448.90" y2="574.92" stroke="#000" stroke-width="0.70" />
<line x1="446.70" y1="568.08" x2="448.90" y2="568.08" stroke="#000" stroke-width="0.70" />
<line x1="446.70" y1="561.24" x2="448.90" y2="561.24" stroke="#000" stroke-width="0.70" />
<line x1="461.05" y1="657.00" x2="461.05" y2="661.20" stroke="#000" stroke-width="0.90" />
<text x="461.05" y="669.00" text-anchor="middle" fill="#111" style="font-size:8.30px" >2</text>
<line x1="487.21" y1="657.00" x2="487.21" y2="661.20" stroke="#000" stroke-width="0.90" />
<text x="487.21" y="669.00" text-anchor="middle" fill="#111" style="font-size:8.30px" >6</text>
<line x1="513.37" y1="657.00" x2="513.37" y2="661.20" stroke="#000" stroke-width="0.90" />
<text x="513.37" y="669.00" text-anchor="middle" fill="#111" style="font-size:8.30px" >24</text>
<line x1="539.53" y1="657.00" x2="539.53" y2="661.20" stroke="#000" stroke-width="0.90" />
<text x="539.53" y="669.00" text-anchor="middle" fill="#111" style="font-size:8.30px" >48</text>
<line x1="565.69" y1="657.00" x2="565.69" y2="661.20" stroke="#000" stroke-width="0.90" />
<text x="565.69" y="669.00" text-anchor="middle" fill="#111" style="font-size:8.30px" >72</text>
<line x1="591.85" y1="657.00" x2="591.85" y2="661.20" stroke="#000" stroke-width="0.90" />
<text x="591.85" y="669.00" text-anchor="middle" fill="#111" style="font-size:8.30px" >144</text>
<text x="526.00" y="682.50" text-anchor="middle" fill="#111" style="font-size:8.50px" >Time (hr)</text>
<text transform="translate(427.60 606.00) rotate(-90)" text-anchor="middle" fill="#111" style="font-size:8.50px" >Relative Expression</text>
<text x="526.70" y="554.40" font-style="italic" text-anchor="middle" fill="#111" style="font-size:9.90px" >MYC</text>
<line x1="322.00" y1="317.41" x2="434.50" y2="317.41" stroke="#000" stroke-width="0.95" stroke-dasharray="0.95 1.65"/>
<line x1="434.50" y1="271.78" x2="434.50" y2="277.42" stroke="#222" stroke-width="0.70" />
<line x1="432.40" y1="271.78" x2="436.60" y2="271.78" stroke="#222" stroke-width="0.70" />
<line x1="432.40" y1="277.42" x2="436.60" y2="277.42" stroke="#222" stroke-width="0.70" />
<line x1="359.50" y1="297.51" x2="359.50" y2="301.27" stroke="#222" stroke-width="0.70" />
<line x1="357.40" y1="297.51" x2="361.60" y2="297.51" stroke="#222" stroke-width="0.70" />
<line x1="357.40" y1="301.27" x2="361.60" y2="301.27" stroke="#222" stroke-width="0.70" />
<line x1="375.57" y1="287.77" x2="375.57" y2="293.42" stroke="#222" stroke-width="0.70" />
<line x1="373.47" y1="287.77" x2="377.67" y2="287.77" stroke="#222" stroke-width="0.70" />
<line x1="373.47" y1="293.42" x2="377.67" y2="293.42" stroke="#222" stroke-width="0.70" />
<line x1="397.00" y1="272.67" x2="397.00" y2="279.26" stroke="#222" stroke-width="0.70" />
<line x1="394.90" y1="272.67" x2="399.10" y2="272.67" stroke="#222" stroke-width="0.70" />
<line x1="394.90" y1="279.26" x2="399.10" y2="279.26" stroke="#222" stroke-width="0.70" />
<line x1="413.07" y1="260.77" x2="413.07" y2="269.24" stroke="#222" stroke-width="0.70" />
<line x1="410.97" y1="260.77" x2="415.17" y2="260.77" stroke="#222" stroke-width="0.70" />
<line x1="410.97" y1="269.24" x2="415.17" y2="269.24" stroke="#222" stroke-width="0.70" />
<line x1="434.50" y1="240.17" x2="434.50" y2="250.98" stroke="#222" stroke-width="0.70" />
<line x1="432.40" y1="240.17" x2="436.60" y2="240.17" stroke="#222" stroke-width="0.70" />
<line x1="432.40" y1="250.98" x2="436.60" y2="250.98" stroke="#222" stroke-width="0.70" />
<line x1="359.50" y1="295.72" x2="359.50" y2="299.48" stroke="#222" stroke-width="0.70" />
<line x1="357.40" y1="295.72" x2="361.60" y2="295.72" stroke="#222" stroke-width="0.70" />
<line x1="357.40" y1="299.48" x2="361.60" y2="299.48" stroke="#222" stroke-width="0.70" />
<line x1="375.57" y1="284.10" x2="375.57" y2="290.69" stroke="#222" stroke-width="0.70" />
<line x1="373.47" y1="284.10" x2="377.67" y2="284.10" stroke="#222" stroke-width="0.70" />
<line x1="373.47" y1="290.69" x2="377.67" y2="290.69" stroke="#222" stroke-width="0.70" />
<line x1="397.00" y1="271.17" x2="397.00" y2="279.63" stroke="#222" stroke-width="0.70" />
<line x1="394.90" y1="271.17" x2="399.10" y2="271.17" stroke="#222" stroke-width="0.70" />
<line x1="394.90" y1="279.63" x2="399.10" y2="279.63" stroke="#222" stroke-width="0.70" />
<line x1="413.07" y1="254.18" x2="413.07" y2="262.65" stroke="#222" stroke-width="0.70" />
<line x1="410.97" y1="254.18" x2="415.17" y2="254.18" stroke="#222" stroke-width="0.70" />
<line x1="410.97" y1="262.65" x2="415.17" y2="262.65" stroke="#222" stroke-width="0.70" />
<line x1="434.50" y1="233.58" x2="434.50" y2="244.40" stroke="#222" stroke-width="0.70" />
<line x1="432.40" y1="233.58" x2="436.60" y2="233.58" stroke="#222" stroke-width="0.70" />
<line x1="432.40" y1="244.40" x2="436.60" y2="244.40" stroke="#222" stroke-width="0.70" />
<polyline fill="none" stroke="#000" stroke-width="1.15" stroke-linejoin="round" points="322.00,317.41 343.43,319.38 359.50,319.99 375.57,322.58 397.00,323.61 413.07,325.59 434.50,325.59"/>
<polygon points="319.20,315.41 324.80,315.41 322.00,320.21" fill="#fff" stroke="#000" stroke-width="1.0" stroke-linejoin="miter"/>
<polygon points="340.63,317.38 346.23,317.38 343.43,322.18" fill="#fff" stroke="#000" stroke-width="1.0" stroke-linejoin="miter"/>
<polygon points="356.70,317.99 362.30,317.99 359.50,322.79" fill="#fff" stroke="#000" stroke-width="1.0" stroke-linejoin="miter"/>
<polygon points="372.77,320.58 378.37,320.58 375.57,325.38" fill="#fff" stroke="#000" stroke-width="1.0" stroke-linejoin="miter"/>
<polygon points="394.20,321.61 399.80,321.61 397.00,326.41" fill="#fff" stroke="#000" stroke-width="1.0" stroke-linejoin="miter"/>
<polygon points="410.27,323.59 415.87,323.59 413.07,328.39" fill="#fff" stroke="#000" stroke-width="1.0" stroke-linejoin="miter"/>
<polygon points="431.70,323.59 437.30,323.59 434.50,328.39" fill="#fff" stroke="#000" stroke-width="1.0" stroke-linejoin="miter"/>
<polyline fill="none" stroke="#000" stroke-width="1.15" stroke-linejoin="round" points="322.00,317.41 343.43,315.01 359.50,311.01 375.57,314.58 397.00,317.41 413.07,320.60 434.50,319.38"/>
<polygon points="319.10,315.41 324.90,315.41 322.00,320.31" fill="#000"/>
<polygon points="340.53,313.01 346.33,313.01 343.43,317.91" fill="#000"/>
<polygon points="356.60,309.01 362.40,309.01 359.50,313.91" fill="#000"/>
<polygon points="372.67,312.58 378.47,312.58 375.57,317.48" fill="#000"/>
<polygon points="394.10,315.41 399.90,315.41 397.00,320.31" fill="#000"/>
<polygon points="410.17,318.60 415.97,318.60 413.07,323.50" fill="#000"/>
<polygon points="431.60,317.38 437.40,317.38 434.50,322.28" fill="#000"/>
<polyline fill="none" stroke="#000" stroke-width="1.15" stroke-linejoin="round" points="322.00,317.41 343.43,312.98 359.50,308.00 375.57,308.00 397.00,304.99 413.07,309.60 434.50,308.00"/>
<rect x="319.80" y="315.21" width="4.40" height="4.40" fill="#fff" stroke="#000" stroke-width="1.0"/>
<rect x="341.23" y="310.78" width="4.40" height="4.40" fill="#fff" stroke="#000" stroke-width="1.0"/>
<rect x="357.30" y="305.80" width="4.40" height="4.40" fill="#fff" stroke="#000" stroke-width="1.0"/>
<rect x="373.37" y="305.80" width="4.40" height="4.40" fill="#fff" stroke="#000" stroke-width="1.0"/>
<rect x="394.80" y="302.79" width="4.40" height="4.40" fill="#fff" stroke="#000" stroke-width="1.0"/>
<rect x="410.87" y="307.40" width="4.40" height="4.40" fill="#fff" stroke="#000" stroke-width="1.0"/>
<rect x="432.30" y="305.80" width="4.40" height="4.40" fill="#fff" stroke="#000" stroke-width="1.0"/>
<polyline fill="none" stroke="#000" stroke-width="1.15" stroke-linejoin="round" points="322.00,317.41 343.43,310.02 359.50,303.39 375.57,298.40 397.00,289.42 413.07,288.43 434.50,274.60"/>
<rect x="319.60" y="315.01" width="4.80" height="4.80" fill="#000"/>
<rect x="341.03" y="307.62" width="4.80" height="4.80" fill="#000"/>
<rect x="357.10" y="300.99" width="4.80" height="4.80" fill="#000"/>
<rect x="373.17" y="296.00" width="4.80" height="4.80" fill="#000"/>
<rect x="394.60" y="287.02" width="4.80" height="4.80" fill="#000"/>
<rect x="410.67" y="286.03" width="4.80" height="4.80" fill="#000"/>
<rect x="432.10" y="272.20" width="4.80" height="4.80" fill="#000"/>
<polyline fill="none" stroke="#000" stroke-width="1.15" stroke-linejoin="round" points="322.00,317.41 343.43,308.00 359.50,299.39 375.57,290.59 397.00,275.96 413.07,265.00 434.50,245.58"/>
<circle cx="322.00" cy="317.41" r="2.45" fill="#fff" stroke="#000" stroke-width="1.3"/>
<circle cx="343.43" cy="308.00" r="2.45" fill="#fff" stroke="#000" stroke-width="1.3"/>
<circle cx="359.50" cy="299.39" r="2.45" fill="#fff" stroke="#000" stroke-width="1.3"/>
<circle cx="375.57" cy="290.59" r="2.45" fill="#fff" stroke="#000" stroke-width="1.3"/>
<circle cx="397.00" cy="275.96" r="2.45" fill="#fff" stroke="#000" stroke-width="1.3"/>
<circle cx="413.07" cy="265.00" r="2.45" fill="#fff" stroke="#000" stroke-width="1.3"/>
<circle cx="434.50" cy="245.58" r="2.45" fill="#fff" stroke="#000" stroke-width="1.3"/>
<polyline fill="none" stroke="#000" stroke-width="1.15" stroke-linejoin="round" points="322.00,317.41 343.43,306.02 359.50,297.60 375.57,287.39 397.00,275.40 413.07,258.42 434.50,238.99"/>
<circle cx="322.00" cy="317.41" r="2.50" fill="#000"/>
<circle cx="343.43" cy="306.02" r="2.50" fill="#000"/>
<circle cx="359.50" cy="297.60" r="2.50" fill="#000"/>
<circle cx="375.57" cy="287.39" r="2.50" fill="#000"/>
<circle cx="397.00" cy="275.40" r="2.50" fill="#000"/>
<circle cx="413.07" cy="258.42" r="2.50" fill="#000"/>
<circle cx="434.50" cy="238.99" r="2.50" fill="#000"/>
<line x1="322.00" y1="212.90" x2="322.00" y2="331.50" stroke="#000" stroke-width="1.10" />
<line x1="321.50" y1="331.00" x2="440.00" y2="331.00" stroke="#000" stroke-width="1.10" />
<line x1="317.60" y1="331.00" x2="322.00" y2="331.00" stroke="#000" stroke-width="1.00" />
<text x="316.00" y="334.15" text-anchor="end" fill="#111" style="font-size:8.80px" >0</text>
<line x1="317.60" y1="307.48" x2="322.00" y2="307.48" stroke="#000" stroke-width="1.00" />
<text x="316.00" y="310.63" text-anchor="end" fill="#111" style="font-size:8.80px" >500</text>
<line x1="317.60" y1="283.96" x2="322.00" y2="283.96" stroke="#000" stroke-width="1.00" />
<text x="316.00" y="287.11" text-anchor="end" fill="#111" style="font-size:8.80px" >1000</text>
<line x1="317.60" y1="260.44" x2="322.00" y2="260.44" stroke="#000" stroke-width="1.00" />
<text x="316.00" y="263.59" text-anchor="end" fill="#111" style="font-size:8.80px" >1500</text>
<line x1="317.60" y1="236.92" x2="322.00" y2="236.92" stroke="#000" stroke-width="1.00" />
<text x="316.00" y="240.07" text-anchor="end" fill="#111" style="font-size:8.80px" >2000</text>
<line x1="317.60" y1="213.40" x2="322.00" y2="213.40" stroke="#000" stroke-width="1.00" />
<text x="316.00" y="216.55" text-anchor="end" fill="#111" style="font-size:8.80px" >2500</text>
<line x1="322.00" y1="331.00" x2="322.00" y2="335.20" stroke="#000" stroke-width="1.00" />
<text x="322.00" y="345.00" text-anchor="middle" fill="#111" style="font-size:8.80px" >0</text>
<line x1="327.36" y1="331.00" x2="327.36" y2="333.40" stroke="#000" stroke-width="0.90" />
<line x1="332.71" y1="331.00" x2="332.71" y2="333.40" stroke="#000" stroke-width="0.90" />
<line x1="338.07" y1="331.00" x2="338.07" y2="333.40" stroke="#000" stroke-width="0.90" />
<line x1="343.43" y1="331.00" x2="343.43" y2="333.40" stroke="#000" stroke-width="0.90" />
<line x1="348.79" y1="331.00" x2="348.79" y2="333.40" stroke="#000" stroke-width="0.90" />
<line x1="354.14" y1="331.00" x2="354.14" y2="333.40" stroke="#000" stroke-width="0.90" />
<line x1="359.50" y1="331.00" x2="359.50" y2="335.20" stroke="#000" stroke-width="1.00" />
<text x="359.50" y="345.00" text-anchor="middle" fill="#111" style="font-size:8.80px" >7</text>
<line x1="364.86" y1="331.00" x2="364.86" y2="333.40" stroke="#000" stroke-width="0.90" />
<line x1="370.21" y1="331.00" x2="370.21" y2="333.40" stroke="#000" stroke-width="0.90" />
<line x1="375.57" y1="331.00" x2="375.57" y2="333.40" stroke="#000" stroke-width="0.90" />
<line x1="380.93" y1="331.00" x2="380.93" y2="333.40" stroke="#000" stroke-width="0.90" />
<line x1="386.28" y1="331.00" x2="386.28" y2="333.40" stroke="#000" stroke-width="0.90" />
<line x1="391.64" y1="331.00" x2="391.64" y2="333.40" stroke="#000" stroke-width="0.90" />
<line x1="397.00" y1="331.00" x2="397.00" y2="335.20" stroke="#000" stroke-width="1.00" />
<text x="397.00" y="345.00" text-anchor="middle" fill="#111" style="font-size:8.80px" >14</text>
<line x1="402.36" y1="331.00" x2="402.36" y2="333.40" stroke="#000" stroke-width="0.90" />
<line x1="407.71" y1="331.00" x2="407.71" y2="333.40" stroke="#000" stroke-width="0.90" />
<line x1="413.07" y1="331.00" x2="413.07" y2="333.40" stroke="#000" stroke-width="0.90" />
<line x1="418.43" y1="331.00" x2="418.43" y2="333.40" stroke="#000" stroke-width="0.90" />
<line x1="423.78" y1="331.00" x2="423.78" y2="333.40" stroke="#000" stroke-width="0.90" />
<line x1="429.14" y1="331.00" x2="429.14" y2="333.40" stroke="#000" stroke-width="0.90" />
<line x1="434.50" y1="331.00" x2="434.50" y2="335.20" stroke="#000" stroke-width="1.00" />
<text x="434.50" y="345.00" text-anchor="middle" fill="#111" style="font-size:8.80px" >21</text>
<line x1="439.85" y1="331.00" x2="439.85" y2="333.40" stroke="#000" stroke-width="0.90" />
<text x="381.00" y="360.00" text-anchor="middle" fill="#111" style="font-size:9.60px" >Time (Days)</text>
<text transform="translate(289.10 272.00) rotate(-90)" text-anchor="middle" fill="#111" style="font-size:9.80px" >Tumor Volume (mm<tspan dy="-3.53" font-size="6.47">3</tspan><tspan dy="3.53" font-size="9.80">)</tspan></text>
<text x="440.30" y="282.70" text-anchor="start" fill="#000" style="font-size:15.70px" stroke="#000" stroke-width="0.3">**</text>
<text x="440.30" y="315.90" text-anchor="start" fill="#000" style="font-size:15.70px" stroke="#000" stroke-width="0.3">**</text>
<text x="440.30" y="326.70" text-anchor="start" fill="#000" style="font-size:15.70px" stroke="#000" stroke-width="0.3">**</text>
<text x="440.30" y="333.90" text-anchor="start" fill="#000" style="font-size:15.70px" stroke="#000" stroke-width="0.3">**</text>
<line x1="497.40" y1="236.39" x2="497.40" y2="238.68" stroke="#222" stroke-width="0.60" />
<line x1="495.30" y1="236.39" x2="499.50" y2="236.39" stroke="#222" stroke-width="0.60" />
<line x1="495.30" y1="238.68" x2="499.50" y2="238.68" stroke="#222" stroke-width="0.60" />
<line x1="518.20" y1="231.81" x2="518.20" y2="234.10" stroke="#222" stroke-width="0.60" />
<line x1="516.10" y1="231.81" x2="520.30" y2="231.81" stroke="#222" stroke-width="0.60" />
<line x1="516.10" y1="234.10" x2="520.30" y2="234.10" stroke="#222" stroke-width="0.60" />
<line x1="533.80" y1="231.43" x2="533.80" y2="233.72" stroke="#222" stroke-width="0.60" />
<line x1="531.70" y1="231.43" x2="535.90" y2="231.43" stroke="#222" stroke-width="0.60" />
<line x1="531.70" y1="233.72" x2="535.90" y2="233.72" stroke="#222" stroke-width="0.60" />
<line x1="549.40" y1="232.57" x2="549.40" y2="234.86" stroke="#222" stroke-width="0.60" />
<line x1="547.30" y1="232.57" x2="551.50" y2="232.57" stroke="#222" stroke-width="0.60" />
<line x1="547.30" y1="234.86" x2="551.50" y2="234.86" stroke="#222" stroke-width="0.60" />
<line x1="570.20" y1="231.81" x2="570.20" y2="234.10" stroke="#222" stroke-width="0.60" />
<line x1="568.10" y1="231.81" x2="572.30" y2="231.81" stroke="#222" stroke-width="0.60" />
<line x1="568.10" y1="234.10" x2="572.30" y2="234.10" stroke="#222" stroke-width="0.60" />
<line x1="585.80" y1="230.66" x2="585.80" y2="232.95" stroke="#222" stroke-width="0.60" />
<line x1="583.70" y1="230.66" x2="587.90" y2="230.66" stroke="#222" stroke-width="0.60" />
<line x1="583.70" y1="232.95" x2="587.90" y2="232.95" stroke="#222" stroke-width="0.60" />
<line x1="606.60" y1="227.22" x2="606.60" y2="229.52" stroke="#222" stroke-width="0.60" />
<line x1="604.50" y1="227.22" x2="608.70" y2="227.22" stroke="#222" stroke-width="0.60" />
<line x1="604.50" y1="229.52" x2="608.70" y2="229.52" stroke="#222" stroke-width="0.60" />
<line x1="497.40" y1="237.16" x2="497.40" y2="239.45" stroke="#222" stroke-width="0.60" />
<line x1="495.30" y1="237.16" x2="499.50" y2="237.16" stroke="#222" stroke-width="0.60" />
<line x1="495.30" y1="239.45" x2="499.50" y2="239.45" stroke="#222" stroke-width="0.60" />
<line x1="518.20" y1="232.57" x2="518.20" y2="234.86" stroke="#222" stroke-width="0.60" />
<line x1="516.10" y1="232.57" x2="520.30" y2="232.57" stroke="#222" stroke-width="0.60" />
<line x1="516.10" y1="234.86" x2="520.30" y2="234.86" stroke="#222" stroke-width="0.60" />
<line x1="533.80" y1="232.95" x2="533.80" y2="235.25" stroke="#222" stroke-width="0.60" />
<line x1="531.70" y1="232.95" x2="535.90" y2="232.95" stroke="#222" stroke-width="0.60" />
<line x1="531.70" y1="235.25" x2="535.90" y2="235.25" stroke="#222" stroke-width="0.60" />
<line x1="549.40" y1="234.10" x2="549.40" y2="236.39" stroke="#222" stroke-width="0.60" />
<line x1="547.30" y1="234.10" x2="551.50" y2="234.10" stroke="#222" stroke-width="0.60" />
<line x1="547.30" y1="236.39" x2="551.50" y2="236.39" stroke="#222" stroke-width="0.60" />
<line x1="570.20" y1="233.34" x2="570.20" y2="235.63" stroke="#222" stroke-width="0.60" />
<line x1="568.10" y1="233.34" x2="572.30" y2="233.34" stroke="#222" stroke-width="0.60" />
<line x1="568.10" y1="235.63" x2="572.30" y2="235.63" stroke="#222" stroke-width="0.60" />
<line x1="585.80" y1="232.57" x2="585.80" y2="234.86" stroke="#222" stroke-width="0.60" />
<line x1="583.70" y1="232.57" x2="587.90" y2="232.57" stroke="#222" stroke-width="0.60" />
<line x1="583.70" y1="234.86" x2="587.90" y2="234.86" stroke="#222" stroke-width="0.60" />
<line x1="606.60" y1="228.75" x2="606.60" y2="231.04" stroke="#222" stroke-width="0.60" />
<line x1="604.50" y1="228.75" x2="608.70" y2="228.75" stroke="#222" stroke-width="0.60" />
<line x1="604.50" y1="231.04" x2="608.70" y2="231.04" stroke="#222" stroke-width="0.60" />
<line x1="497.40" y1="236.01" x2="497.40" y2="238.30" stroke="#222" stroke-width="0.60" />
<line x1="495.30" y1="236.01" x2="499.50" y2="236.01" stroke="#222" stroke-width="0.60" />
<line x1="495.30" y1="238.30" x2="499.50" y2="238.30" stroke="#222" stroke-width="0.60" />
<line x1="518.20" y1="231.43" x2="518.20" y2="233.72" stroke="#222" stroke-width="0.60" />
<line x1="516.10" y1="231.43" x2="520.30" y2="231.43" stroke="#222" stroke-width="0.60" />
<line x1="516.10" y1="233.72" x2="520.30" y2="233.72" stroke="#222" stroke-width="0.60" />
<line x1="533.80" y1="231.04" x2="533.80" y2="233.34" stroke="#222" stroke-width="0.60" />
<line x1="531.70" y1="231.04" x2="535.90" y2="231.04" stroke="#222" stroke-width="0.60" />
<line x1="531.70" y1="233.34" x2="535.90" y2="233.34" stroke="#222" stroke-width="0.60" />
<line x1="549.40" y1="232.19" x2="549.40" y2="234.48" stroke="#222" stroke-width="0.60" />
<line x1="547.30" y1="232.19" x2="551.50" y2="232.19" stroke="#222" stroke-width="0.60" />
<line x1="547.30" y1="234.48" x2="551.50" y2="234.48" stroke="#222" stroke-width="0.60" />
<line x1="570.20" y1="231.43" x2="570.20" y2="233.72" stroke="#222" stroke-width="0.60" />
<line x1="568.10" y1="231.43" x2="572.30" y2="231.43" stroke="#222" stroke-width="0.60" />
<line x1="568.10" y1="233.72" x2="572.30" y2="233.72" stroke="#222" stroke-width="0.60" />
<line x1="585.80" y1="229.90" x2="585.80" y2="232.19" stroke="#222" stroke-width="0.60" />
<line x1="583.70" y1="229.90" x2="587.90" y2="229.90" stroke="#222" stroke-width="0.60" />
<line x1="583.70" y1="232.19" x2="587.90" y2="232.19" stroke="#222" stroke-width="0.60" />
<line x1="606.60" y1="226.46" x2="606.60" y2="228.75" stroke="#222" stroke-width="0.60" />
<line x1="604.50" y1="226.46" x2="608.70" y2="226.46" stroke="#222" stroke-width="0.60" />
<line x1="604.50" y1="228.75" x2="608.70" y2="228.75" stroke="#222" stroke-width="0.60" />
<line x1="497.40" y1="232.95" x2="497.40" y2="238.30" stroke="#222" stroke-width="0.60" />
<line x1="495.30" y1="232.95" x2="499.50" y2="232.95" stroke="#222" stroke-width="0.60" />
<line x1="495.30" y1="238.30" x2="499.50" y2="238.30" stroke="#222" stroke-width="0.60" />
<line x1="518.20" y1="225.31" x2="518.20" y2="232.95" stroke="#222" stroke-width="0.60" />
<line x1="516.10" y1="225.31" x2="520.30" y2="225.31" stroke="#222" stroke-width="0.60" />
<line x1="516.10" y1="232.95" x2="520.30" y2="232.95" stroke="#222" stroke-width="0.60" />
<line x1="533.80" y1="224.55" x2="533.80" y2="232.19" stroke="#222" stroke-width="0.60" />
<line x1="531.70" y1="224.55" x2="535.90" y2="224.55" stroke="#222" stroke-width="0.60" />
<line x1="531.70" y1="232.19" x2="535.90" y2="232.19" stroke="#222" stroke-width="0.60" />
<line x1="549.40" y1="225.70" x2="549.40" y2="233.34" stroke="#222" stroke-width="0.60" />
<line x1="547.30" y1="225.70" x2="551.50" y2="225.70" stroke="#222" stroke-width="0.60" />
<line x1="547.30" y1="233.34" x2="551.50" y2="233.34" stroke="#222" stroke-width="0.60" />
<line x1="570.20" y1="225.31" x2="570.20" y2="232.95" stroke="#222" stroke-width="0.60" />
<line x1="568.10" y1="225.31" x2="572.30" y2="225.31" stroke="#222" stroke-width="0.60" />
<line x1="568.10" y1="232.95" x2="572.30" y2="232.95" stroke="#222" stroke-width="0.60" />
<line x1="585.80" y1="222.26" x2="585.80" y2="229.90" stroke="#222" stroke-width="0.60" />
<line x1="583.70" y1="222.26" x2="587.90" y2="222.26" stroke="#222" stroke-width="0.60" />
<line x1="583.70" y1="229.90" x2="587.90" y2="229.90" stroke="#222" stroke-width="0.60" />
<line x1="606.60" y1="218.44" x2="606.60" y2="226.08" stroke="#222" stroke-width="0.60" />
<line x1="604.50" y1="218.44" x2="608.70" y2="218.44" stroke="#222" stroke-width="0.60" />
<line x1="604.50" y1="226.08" x2="608.70" y2="226.08" stroke="#222" stroke-width="0.60" />
<line x1="497.40" y1="236.77" x2="497.40" y2="239.07" stroke="#222" stroke-width="0.60" />
<line x1="495.30" y1="236.77" x2="499.50" y2="236.77" stroke="#222" stroke-width="0.60" />
<line x1="495.30" y1="239.07" x2="499.50" y2="239.07" stroke="#222" stroke-width="0.60" />
<line x1="518.20" y1="232.19" x2="518.20" y2="234.48" stroke="#222" stroke-width="0.60" />
<line x1="516.10" y1="232.19" x2="520.30" y2="232.19" stroke="#222" stroke-width="0.60" />
<line x1="516.10" y1="234.48" x2="520.30" y2="234.48" stroke="#222" stroke-width="0.60" />
<line x1="533.80" y1="232.19" x2="533.80" y2="234.48" stroke="#222" stroke-width="0.60" />
<line x1="531.70" y1="232.19" x2="535.90" y2="232.19" stroke="#222" stroke-width="0.60" />
<line x1="531.70" y1="234.48" x2="535.90" y2="234.48" stroke="#222" stroke-width="0.60" />
<line x1="549.40" y1="233.34" x2="549.40" y2="235.63" stroke="#222" stroke-width="0.60" />
<line x1="547.30" y1="233.34" x2="551.50" y2="233.34" stroke="#222" stroke-width="0.60" />
<line x1="547.30" y1="235.63" x2="551.50" y2="235.63" stroke="#222" stroke-width="0.60" />
<line x1="570.20" y1="232.57" x2="570.20" y2="234.86" stroke="#222" stroke-width="0.60" />
<line x1="568.10" y1="232.57" x2="572.30" y2="232.57" stroke="#222" stroke-width="0.60" />
<line x1="568.10" y1="234.86" x2="572.30" y2="234.86" stroke="#222" stroke-width="0.60" />
<line x1="585.80" y1="231.43" x2="585.80" y2="233.72" stroke="#222" stroke-width="0.60" />
<line x1="583.70" y1="231.43" x2="587.90" y2="231.43" stroke="#222" stroke-width="0.60" />
<line x1="583.70" y1="233.72" x2="587.90" y2="233.72" stroke="#222" stroke-width="0.60" />
<line x1="606.60" y1="227.99" x2="606.60" y2="230.28" stroke="#222" stroke-width="0.60" />
<line x1="604.50" y1="227.99" x2="608.70" y2="227.99" stroke="#222" stroke-width="0.60" />
<line x1="604.50" y1="230.28" x2="608.70" y2="230.28" stroke="#222" stroke-width="0.60" />
<line x1="497.40" y1="237.54" x2="497.40" y2="241.36" stroke="#222" stroke-width="0.60" />
<line x1="495.30" y1="237.54" x2="499.50" y2="237.54" stroke="#222" stroke-width="0.60" />
<line x1="495.30" y1="241.36" x2="499.50" y2="241.36" stroke="#222" stroke-width="0.60" />
<line x1="518.20" y1="232.38" x2="518.20" y2="236.97" stroke="#222" stroke-width="0.60" />
<line x1="516.10" y1="232.38" x2="520.30" y2="232.38" stroke="#222" stroke-width="0.60" />
<line x1="516.10" y1="236.97" x2="520.30" y2="236.97" stroke="#222" stroke-width="0.60" />
<line x1="533.80" y1="233.72" x2="533.80" y2="238.68" stroke="#222" stroke-width="0.60" />
<line x1="531.70" y1="233.72" x2="535.90" y2="233.72" stroke="#222" stroke-width="0.60" />
<line x1="531.70" y1="238.68" x2="535.90" y2="238.68" stroke="#222" stroke-width="0.60" />
<line x1="549.40" y1="234.67" x2="549.40" y2="239.64" stroke="#222" stroke-width="0.60" />
<line x1="547.30" y1="234.67" x2="551.50" y2="234.67" stroke="#222" stroke-width="0.60" />
<line x1="547.30" y1="239.64" x2="551.50" y2="239.64" stroke="#222" stroke-width="0.60" />
<line x1="570.20" y1="233.15" x2="570.20" y2="238.11" stroke="#222" stroke-width="0.60" />
<line x1="568.10" y1="233.15" x2="572.30" y2="233.15" stroke="#222" stroke-width="0.60" />
<line x1="568.10" y1="238.11" x2="572.30" y2="238.11" stroke="#222" stroke-width="0.60" />
<line x1="585.80" y1="232.19" x2="585.80" y2="237.16" stroke="#222" stroke-width="0.60" />
<line x1="583.70" y1="232.19" x2="587.90" y2="232.19" stroke="#222" stroke-width="0.60" />
<line x1="583.70" y1="237.16" x2="587.90" y2="237.16" stroke="#222" stroke-width="0.60" />
<line x1="606.60" y1="228.18" x2="606.60" y2="233.15" stroke="#222" stroke-width="0.60" />
<line x1="604.50" y1="228.18" x2="608.70" y2="228.18" stroke="#222" stroke-width="0.60" />
<line x1="604.50" y1="233.15" x2="608.70" y2="233.15" stroke="#222" stroke-width="0.60" />
<polyline fill="none" stroke="#000" stroke-width="1.15" stroke-linejoin="round" points="497.40,237.54 518.20,232.95 533.80,232.57 549.40,233.72 570.20,232.95 585.80,231.81 606.60,228.37"/>
<polygon points="494.60,235.54 500.20,235.54 497.40,240.34" fill="#fff" stroke="#000" stroke-width="1.0" stroke-linejoin="miter"/>
<polygon points="515.40,230.95 521.00,230.95 518.20,235.75" fill="#fff" stroke="#000" stroke-width="1.0" stroke-linejoin="miter"/>
<polygon points="531.00,230.57 536.60,230.57 533.80,235.37" fill="#fff" stroke="#000" stroke-width="1.0" stroke-linejoin="miter"/>
<polygon points="546.60,231.72 552.20,231.72 549.40,236.52" fill="#fff" stroke="#000" stroke-width="1.0" stroke-linejoin="miter"/>
<polygon points="567.40,230.95 573.00,230.95 570.20,235.75" fill="#fff" stroke="#000" stroke-width="1.0" stroke-linejoin="miter"/>
<polygon points="583.00,229.81 588.60,229.81 585.80,234.61" fill="#fff" stroke="#000" stroke-width="1.0" stroke-linejoin="miter"/>
<polygon points="603.80,226.37 609.40,226.37 606.60,231.17" fill="#fff" stroke="#000" stroke-width="1.0" stroke-linejoin="miter"/>
<polyline fill="none" stroke="#000" stroke-width="1.15" stroke-linejoin="round" points="497.40,238.30 518.20,233.72 533.80,234.10 549.40,235.25 570.20,234.48 585.80,233.72 606.60,229.90"/>
<polygon points="494.50,236.30 500.30,236.30 497.40,241.20" fill="#000"/>
<polygon points="515.30,231.72 521.10,231.72 518.20,236.62" fill="#000"/>
<polygon points="530.90,232.10 536.70,232.10 533.80,237.00" fill="#000"/>
<polygon points="546.50,233.25 552.30,233.25 549.40,238.15" fill="#000"/>
<polygon points="567.30,232.48 573.10,232.48 570.20,237.38" fill="#000"/>
<polygon points="582.90,231.72 588.70,231.72 585.80,236.62" fill="#000"/>
<polygon points="603.70,227.90 609.50,227.90 606.60,232.80" fill="#000"/>
<polyline fill="none" stroke="#000" stroke-width="1.15" stroke-linejoin="round" points="497.40,237.16 518.20,232.57 533.80,232.19 549.40,233.34 570.20,232.57 585.80,231.04 606.60,227.61"/>
<rect x="495.20" y="234.96" width="4.40" height="4.40" fill="#fff" stroke="#000" stroke-width="1.0"/>
<rect x="516.00" y="230.37" width="4.40" height="4.40" fill="#fff" stroke="#000" stroke-width="1.0"/>
<rect x="531.60" y="229.99" width="4.40" height="4.40" fill="#fff" stroke="#000" stroke-width="1.0"/>
<rect x="547.20" y="231.14" width="4.40" height="4.40" fill="#fff" stroke="#000" stroke-width="1.0"/>
<rect x="568.00" y="230.37" width="4.40" height="4.40" fill="#fff" stroke="#000" stroke-width="1.0"/>
<rect x="583.60" y="228.84" width="4.40" height="4.40" fill="#fff" stroke="#000" stroke-width="1.0"/>
<rect x="604.40" y="225.41" width="4.40" height="4.40" fill="#fff" stroke="#000" stroke-width="1.0"/>
<polyline fill="none" stroke="#000" stroke-width="1.15" stroke-linejoin="round" points="497.40,235.63 518.20,229.13 533.80,228.37 549.40,229.52 570.20,229.13 585.80,226.08 606.60,222.26"/>
<rect x="495.00" y="233.23" width="4.80" height="4.80" fill="#000"/>
<rect x="515.80" y="226.73" width="4.80" height="4.80" fill="#000"/>
<rect x="531.40" y="225.97" width="4.80" height="4.80" fill="#000"/>
<rect x="547.00" y="227.12" width="4.80" height="4.80" fill="#000"/>
<rect x="567.80" y="226.73" width="4.80" height="4.80" fill="#000"/>
<rect x="583.40" y="223.68" width="4.80" height="4.80" fill="#000"/>
<rect x="604.20" y="219.86" width="4.80" height="4.80" fill="#000"/>
<polyline fill="none" stroke="#000" stroke-width="1.15" stroke-linejoin="round" points="497.40,237.92 518.20,233.34 533.80,233.34 549.40,234.48 570.20,233.72 585.80,232.57 606.60,229.13"/>
<circle cx="497.40" cy="237.92" r="2.45" fill="#fff" stroke="#000" stroke-width="1.3"/>
<circle cx="518.20" cy="233.34" r="2.45" fill="#fff" stroke="#000" stroke-width="1.3"/>
<circle cx="533.80" cy="233.34" r="2.45" fill="#fff" stroke="#000" stroke-width="1.3"/>
<circle cx="549.40" cy="234.48" r="2.45" fill="#fff" stroke="#000" stroke-width="1.3"/>
<circle cx="570.20" cy="233.72" r="2.45" fill="#fff" stroke="#000" stroke-width="1.3"/>
<circle cx="585.80" cy="232.57" r="2.45" fill="#fff" stroke="#000" stroke-width="1.3"/>
<circle cx="606.60" cy="229.13" r="2.45" fill="#fff" stroke="#000" stroke-width="1.3"/>
<polyline fill="none" stroke="#000" stroke-width="1.15" stroke-linejoin="round" points="497.40,239.45 518.20,234.67 533.80,236.20 549.40,237.16 570.20,235.63 585.80,234.67 606.60,230.66"/>
<circle cx="497.40" cy="239.45" r="2.50" fill="#000"/>
<circle cx="518.20" cy="234.67" r="2.50" fill="#000"/>
<circle cx="533.80" cy="236.20" r="2.50" fill="#000"/>
<circle cx="549.40" cy="237.16" r="2.50" fill="#000"/>
<circle cx="570.20" cy="235.63" r="2.50" fill="#000"/>
<circle cx="585.80" cy="234.67" r="2.50" fill="#000"/>
<circle cx="606.60" cy="230.66" r="2.50" fill="#000"/>
<line x1="497.40" y1="214.50" x2="497.40" y2="330.10" stroke="#000" stroke-width="1.10" />
<line x1="496.90" y1="329.60" x2="612.00" y2="329.60" stroke="#000" stroke-width="1.10" />
<line x1="493.00" y1="329.60" x2="497.40" y2="329.60" stroke="#000" stroke-width="1.00" />
<text x="491.40" y="332.75" text-anchor="end" fill="#111" style="font-size:8.80px" >0</text>
<line x1="493.00" y1="310.50" x2="497.40" y2="310.50" stroke="#000" stroke-width="1.00" />
<text x="491.40" y="313.65" text-anchor="end" fill="#111" style="font-size:8.80px" >5</text>
<line x1="493.00" y1="291.40" x2="497.40" y2="291.40" stroke="#000" stroke-width="1.00" />
<text x="491.40" y="294.55" text-anchor="end" fill="#111" style="font-size:8.80px" >10</text>
<line x1="493.00" y1="272.30" x2="497.40" y2="272.30" stroke="#000" stroke-width="1.00" />
<text x="491.40" y="275.45" text-anchor="end" fill="#111" style="font-size:8.80px" >15</text>
<line x1="493.00" y1="253.20" x2="497.40" y2="253.20" stroke="#000" stroke-width="1.00" />
<text x="491.40" y="256.35" text-anchor="end" fill="#111" style="font-size:8.80px" >20</text>
<line x1="493.00" y1="234.10" x2="497.40" y2="234.10" stroke="#000" stroke-width="1.00" />
<text x="491.40" y="237.25" text-anchor="end" fill="#111" style="font-size:8.80px" >25</text>
<line x1="493.00" y1="215.00" x2="497.40" y2="215.00" stroke="#000" stroke-width="1.00" />
<text x="491.40" y="218.15" text-anchor="end" fill="#111" style="font-size:8.80px" >30</text>
<line x1="495.00" y1="325.78" x2="497.40" y2="325.78" stroke="#000" stroke-width="0.90" />
<line x1="495.00" y1="321.96" x2="497.40" y2="321.96" stroke="#000" stroke-width="0.90" />
<line x1="495.00" y1="318.14" x2="497.40" y2="318.14" stroke="#000" stroke-width="0.90" />
<line x1="495.00" y1="314.32" x2="497.40" y2="314.32" stroke="#000" stroke-width="0.90" />
<line x1="495.00" y1="306.68" x2="497.40" y2="306.68" stroke="#000" stroke-width="0.90" />
<line x1="495.00" y1="302.86" x2="497.40" y2="302.86" stroke="#000" stroke-width="0.90" />
<line x1="495.00" y1="299.04" x2="497.40" y2="299.04" stroke="#000" stroke-width="0.90" />
<line x1="495.00" y1="295.22" x2="497.40" y2="295.22" stroke="#000" stroke-width="0.90" />
<line x1="495.00" y1="287.58" x2="497.40" y2="287.58" stroke="#000" stroke-width="0.90" />
<line x1="495.00" y1="283.76" x2="497.40" y2="283.76" stroke="#000" stroke-width="0.90" />
<line x1="495.00" y1="279.94" x2="497.40" y2="279.94" stroke="#000" stroke-width="0.90" />
<line x1="495.00" y1="276.12" x2="497.40" y2="276.12" stroke="#000" stroke-width="0.90" />
<line x1="495.00" y1="268.48" x2="497.40" y2="268.48" stroke="#000" stroke-width="0.90" />
<line x1="495.00" y1="264.66" x2="497.40" y2="264.66" stroke="#000" stroke-width="0.90" />
<line x1="495.00" y1="260.84" x2="497.40" y2="260.84" stroke="#000" stroke-width="0.90" />
<line x1="495.00" y1="257.02" x2="497.40" y2="257.02" stroke="#000" stroke-width="0.90" />
<line x1="495.00" y1="249.38" x2="497.40" y2="249.38" stroke="#000" stroke-width="0.90" />
<line x1="495.00" y1="245.56" x2="497.40" y2="245.56" stroke="#000" stroke-width="0.90" />
<line x1="495.00" y1="241.74" x2="497.40" y2="241.74" stroke="#000" stroke-width="0.90" />
<line x1="495.00" y1="237.92" x2="497.40" y2="237.92" stroke="#000" stroke-width="0.90" />
<line x1="495.00" y1="230.28" x2="497.40" y2="230.28" stroke="#000" stroke-width="0.90" />
<line x1="495.00" y1="226.46" x2="497.40" y2="226.46" stroke="#000" stroke-width="0.90" />
<line x1="495.00" y1="222.64" x2="497.40" y2="222.64" stroke="#000" stroke-width="0.90" />
<line x1="495.00" y1="218.82" x2="497.40" y2="218.82" stroke="#000" stroke-width="0.90" />
<line x1="497.40" y1="329.60" x2="497.40" y2="333.80" stroke="#000" stroke-width="1.00" />
<text x="497.40" y="343.60" text-anchor="middle" fill="#111" style="font-size:8.80px" >0</text>
<line x1="502.60" y1="329.60" x2="502.60" y2="332.00" stroke="#000" stroke-width="0.90" />
<line x1="507.80" y1="329.60" x2="507.80" y2="332.00" stroke="#000" stroke-width="0.90" />
<line x1="513.00" y1="329.60" x2="513.00" y2="332.00" stroke="#000" stroke-width="0.90" />
<line x1="518.20" y1="329.60" x2="518.20" y2="332.00" stroke="#000" stroke-width="0.90" />
<line x1="523.40" y1="329.60" x2="523.40" y2="332.00" stroke="#000" stroke-width="0.90" />
<line x1="528.60" y1="329.60" x2="528.60" y2="332.00" stroke="#000" stroke-width="0.90" />
<line x1="533.80" y1="329.60" x2="533.80" y2="333.80" stroke="#000" stroke-width="1.00" />
<text x="533.80" y="343.60" text-anchor="middle" fill="#111" style="font-size:8.80px" >7</text>
<line x1="539.00" y1="329.60" x2="539.00" y2="332.00" stroke="#000" stroke-width="0.90" />
<line x1="544.20" y1="329.60" x2="544.20" y2="332.00" stroke="#000" stroke-width="0.90" />
<line x1="549.40" y1="329.60" x2="549.40" y2="332.00" stroke="#000" stroke-width="0.90" />
<line x1="554.60" y1="329.60" x2="554.60" y2="332.00" stroke="#000" stroke-width="0.90" />
<line x1="559.80" y1="329.60" x2="559.80" y2="332.00" stroke="#000" stroke-width="0.90" />
<line x1="565.00" y1="329.60" x2="565.00" y2="332.00" stroke="#000" stroke-width="0.90" />
<line x1="570.20" y1="329.60" x2="570.20" y2="333.80" stroke="#000" stroke-width="1.00" />
<text x="570.20" y="343.60" text-anchor="middle" fill="#111" style="font-size:8.80px" >14</text>
<line x1="575.40" y1="329.60" x2="575.40" y2="332.00" stroke="#000" stroke-width="0.90" />
<line x1="580.60" y1="329.60" x2="580.60" y2="332.00" stroke="#000" stroke-width="0.90" />
<line x1="585.80" y1="329.60" x2="585.80" y2="332.00" stroke="#000" stroke-width="0.90" />
<line x1="591.00" y1="329.60" x2="591.00" y2="332.00" stroke="#000" stroke-width="0.90" />
<line x1="596.20" y1="329.60" x2="596.20" y2="332.00" stroke="#000" stroke-width="0.90" />
<line x1="601.40" y1="329.60" x2="601.40" y2="332.00" stroke="#000" stroke-width="0.90" />
<line x1="606.60" y1="329.60" x2="606.60" y2="333.80" stroke="#000" stroke-width="1.00" />
<text x="606.60" y="343.60" text-anchor="middle" fill="#111" style="font-size:8.80px" >21</text>
<line x1="611.80" y1="329.60" x2="611.80" y2="332.00" stroke="#000" stroke-width="0.90" />
<text x="555.00" y="358.60" text-anchor="middle" fill="#111" style="font-size:9.60px" >Time (Days)</text>
<text transform="translate(476.00 271.80) rotate(-90)" text-anchor="middle" fill="#111" style="font-size:9.60px" >Body Weight (g)</text>
<line x1="621.00" y1="225.40" x2="633.00" y2="225.40" stroke="#000" stroke-width="1.00" />
<circle cx="627.00" cy="225.40" r="2.50" fill="#000"/>
<text x="640.00" y="228.70" text-anchor="start" fill="#111" style="font-size:8.60px" >Vehicle</text>
<line x1="621.00" y1="241.00" x2="633.00" y2="241.00" stroke="#000" stroke-width="1.00" />
<circle cx="627.00" cy="241.00" r="2.45" fill="#fff" stroke="#000" stroke-width="1.3"/>
<text x="640.00" y="244.70" text-anchor="start" fill="#111" style="font-size:8.60px" >0.3 mg kg<tspan dx="0.3" dy="-3.61" font-size="6.02">−1</tspan></text>
<line x1="621.00" y1="258.60" x2="633.00" y2="258.60" stroke="#000" stroke-width="1.00" />
<rect x="624.60" y="256.20" width="4.80" height="4.80" fill="#000"/>
<text x="640.00" y="262.30" text-anchor="start" fill="#111" style="font-size:8.60px" >1 mg kg<tspan dx="0.3" dy="-3.61" font-size="6.02">−1</tspan></text>
<line x1="621.00" y1="276.40" x2="633.00" y2="276.40" stroke="#000" stroke-width="1.00" />
<rect x="624.80" y="274.20" width="4.40" height="4.40" fill="#fff" stroke="#000" stroke-width="1.0"/>
<text x="640.00" y="279.90" text-anchor="start" fill="#111" style="font-size:8.60px" >3 mg kg<tspan dx="0.3" dy="-3.61" font-size="6.02">−1</tspan></text>
<line x1="621.00" y1="294.00" x2="633.00" y2="294.00" stroke="#000" stroke-width="1.00" />
<polygon points="624.10,292.00 629.90,292.00 627.00,296.90" fill="#000"/>
<text x="640.00" y="297.90" text-anchor="start" fill="#111" style="font-size:8.60px" >10 mg kg<tspan dx="0.3" dy="-3.61" font-size="6.02">−1</tspan></text>
<line x1="621.00" y1="311.60" x2="633.00" y2="311.60" stroke="#000" stroke-width="1.00" />
<polygon points="624.20,309.60 629.80,309.60 627.00,314.40" fill="#fff" stroke="#000" stroke-width="1.0" stroke-linejoin="miter"/>
<text x="640.00" y="315.70" text-anchor="start" fill="#111" style="font-size:8.60px" >30 mg kg<tspan dx="0.3" dy="-3.61" font-size="6.02">−1</tspan></text>
<text x="0.00" y="8.80" font-weight="bold" text-anchor="start" fill="#000" style="font-size:14.20px" >a</text>
<text x="-0.20" y="196.10" font-weight="bold" text-anchor="start" fill="#000" style="font-size:14.20px" >b</text>
<text x="274.30" y="196.20" font-weight="bold" text-anchor="start" fill="#000" style="font-size:14.20px" >c</text>
<text x="-0.20" y="384.30" font-weight="bold" text-anchor="start" fill="#000" style="font-size:14.20px" >d</text>
</svg>
</body></html>
